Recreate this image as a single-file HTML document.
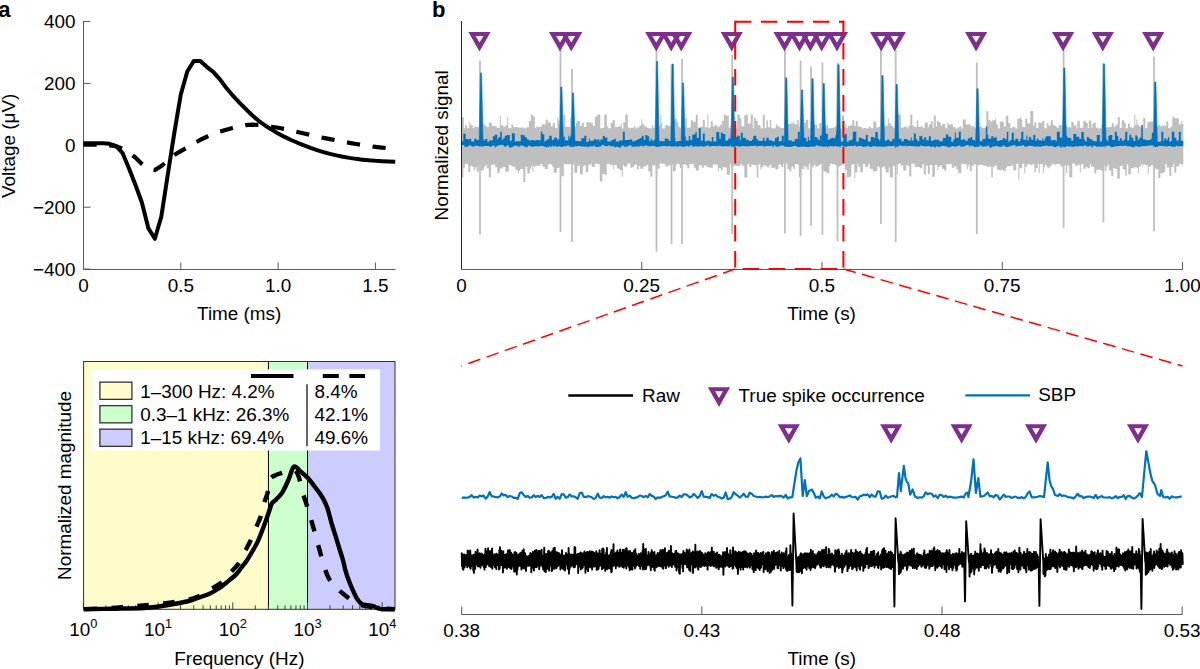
<!DOCTYPE html><html><head><meta charset="utf-8"><style>html,body{margin:0;padding:0;background:#fff;overflow:hidden;width:1200px;height:669px;}svg{display:block;}text{font-family:"Liberation Sans", sans-serif;fill:#000;}</style></head><body>
<svg width="1200" height="669" viewBox="0 0 1200 669">
<rect width="1200" height="669" fill="#fff"/>
<text x="-1.8" y="16.6" font-size="22" text-anchor="start" font-weight="bold" >a</text>
<text x="432" y="16.6" font-size="22" text-anchor="start" font-weight="bold" >b</text>
<path d="M83.5 21 V269.5 H395.5" fill="none" stroke="#595959" stroke-width="1"/>
<path d="M83.5 21.55 H90.5" stroke="#595959" stroke-width="1"/>
<text x="75.6" y="28.15" font-size="18.9" text-anchor="end" font-weight="normal" >400</text>
<path d="M83.5 83.43 H90.5" stroke="#595959" stroke-width="1"/>
<text x="75.6" y="90.03" font-size="18.9" text-anchor="end" font-weight="normal" >200</text>
<path d="M83.5 145.3 H90.5" stroke="#595959" stroke-width="1"/>
<text x="75.6" y="151.9" font-size="18.9" text-anchor="end" font-weight="normal" >0</text>
<path d="M83.5 207.18 H90.5" stroke="#595959" stroke-width="1"/>
<text x="75.6" y="213.78" font-size="18.9" text-anchor="end" font-weight="normal" >&#8722;200</text>
<path d="M83.5 269.05 H90.5" stroke="#595959" stroke-width="1"/>
<text x="75.6" y="275.65" font-size="18.9" text-anchor="end" font-weight="normal" >&#8722;400</text>
<text x="83.5" y="291.6" font-size="18.9" text-anchor="middle" font-weight="normal" >0</text>
<path d="M180.8 269.5 V262.5" stroke="#595959" stroke-width="1"/>
<text x="180.8" y="291.6" font-size="18.9" text-anchor="middle" font-weight="normal" >0.5</text>
<path d="M278.1 269.5 V262.5" stroke="#595959" stroke-width="1"/>
<text x="278.1" y="291.6" font-size="18.9" text-anchor="middle" font-weight="normal" >1.0</text>
<path d="M375.4 269.5 V262.5" stroke="#595959" stroke-width="1"/>
<text x="375.4" y="291.6" font-size="18.9" text-anchor="middle" font-weight="normal" >1.5</text>
<text x="239.2" y="319.75" font-size="18.9" text-anchor="middle" font-weight="normal" >Time (ms)</text>
<text x="15" y="145.8" font-size="18.9" text-anchor="middle" font-weight="normal" transform="rotate(-90 15 145.8)">Voltage (&#956;V)</text>
<path d="M83.5 143.3 89.99 143.28 96.47 143.28 102.96 143.33 109.45 143.81 115.93 145.94 122.42 152.81 128.91 168.23 135.39 184.85 141.88 202.54 148.37 228.3 154.85 238.8 161.34 216.5 167.83 174.29 174.31 132.82 180.8 94.5 187.29 71.5 193.77 61 200.26 61 206.75 66.8 213.23 71.84 219.72 79.08 226.21 87.73 232.69 95.49 239.18 102.31 245.67 108.87 252.15 115.22 258.64 120.81 265.13 125.5 271.61 129.61 278.1 133.4 284.59 136.89 291.07 140.02 297.56 142.77 304.05 145.32 310.53 147.79 317.02 150.08 323.51 152.1 329.99 153.85 336.48 155.38 342.97 156.73 349.45 157.88 355.94 158.86 362.43 159.65 368.91 160.32 375.4 160.84 381.89 161.19 388.37 161.51 394.86 161.79 395.2 161.8" fill="none" stroke="#000" stroke-width="4" stroke-linejoin="round"/>
<path id="adash" d="M83.5 144.6 89.99 144.56 96.47 144.55 102.96 144.73 109.45 145.33 115.93 146.29 122.42 148.62 128.91 152.46 135.39 157.6 141.88 163.89 148.37 168.72 154.85 169.98 161.34 166.05 167.83 160.45 174.31 154.9 180.8 151.17 187.29 147.52 193.77 143.57 200.26 139.98 206.75 136.75 213.23 134 219.72 131.6 226.21 129.67 232.69 127.93 239.18 126.17 245.67 125.15 252.15 124.72 258.64 124.89 265.13 125.65 271.61 126.7 278.1 127.72 284.59 128.93 291.07 130.46 297.56 132.01 304.05 133.48 310.53 134.95 317.02 136.46 323.51 137.85 329.99 139.07 336.48 140.32 342.97 141.66 349.45 142.87 355.94 143.95 362.43 144.99 368.91 146.02 375.4 146.89 381.89 147.62 388.37 148.32 394.86 148.99 395.2 149" fill="none" stroke="#000" stroke-width="4.2" stroke-dasharray="13.2 12.68" stroke-dashoffset="0"/>
<path d="M461.8 117.28 463.8 117.28 463.8 128.21 464.8 128.21 464.8 125.18 466.8 125.18 466.8 128.35 468.3 128.35 468.3 127.45 469.3 127.45 469.3 121.84 470.3 121.84 470.3 124.72 471.8 124.72 471.8 125.23 472.8 125.23 472.8 128.32 474.3 128.32 474.3 126.44 476.3 126.44 476.3 127.1 478.8 127.1 478.8 128.09 480.3 128.09 480.3 126.73 481.8 126.73 481.8 125.34 482.8 125.34 482.8 124.17 484.8 124.17 484.8 126.12 486.8 126.12 486.8 127.15 488.8 127.15 488.8 122.75 491.8 122.75 491.8 125.67 493.8 125.67 493.8 126.24 496.8 126.24 496.8 128.02 497.8 128.02 497.8 127.87 499.8 127.87 499.8 116.07 500.8 116.07 500.8 125.27 503.3 125.27 503.3 126.92 505.3 126.92 505.3 125.2 507.3 125.2 507.3 117.5 508.3 117.5 508.3 128.24 511.3 128.24 511.3 124.54 513.3 124.54 513.3 127.23 515.3 127.23 515.3 126.88 518.3 126.88 518.3 127.8 520.3 127.8 520.3 127.56 521.3 127.56 521.3 127.42 524.3 127.42 524.3 128.18 526.3 128.18 526.3 127.26 528.8 127.26 528.8 120.92 530.8 120.92 530.8 114.5 532.8 114.5 532.8 116.48 534.8 116.48 534.8 127.88 536.3 127.88 536.3 125.98 537.3 125.98 537.3 127.24 539.3 127.24 539.3 126.75 541.8 126.75 541.8 124.04 543.3 124.04 543.3 124.46 545.8 124.46 545.8 119.77 547.8 119.77 547.8 122.42 550.8 122.42 550.8 126.6 552.8 126.6 552.8 122.79 554.8 122.79 554.8 128.06 556.3 128.06 556.3 128.5 557.3 128.5 557.3 117.2 558.3 117.2 558.3 120.62 559.3 120.62 559.3 124.68 560.8 124.68 560.8 126.78 563.3 126.78 563.3 114.5 565.3 114.5 565.3 127.08 567.3 127.08 567.3 126.91 570.3 126.91 570.3 117.17 573.3 117.17 573.3 126.79 575.8 126.79 575.8 123.11 576.8 123.11 576.8 120.94 579.8 120.94 579.8 125.72 581.8 125.72 581.8 122.88 583.8 122.88 583.8 126.98 586.3 126.98 586.3 122.27 587.8 122.27 587.8 122.32 590.8 122.32 590.8 122.63 592.8 122.63 592.8 126.07 594.8 126.07 594.8 116.59 597.3 116.59 597.3 114.5 600.3 114.5 600.3 128.18 602.3 128.18 602.3 127.67 604.3 127.67 604.3 114.5 606.8 114.5 606.8 126.02 607.8 126.02 607.8 128.16 610.8 128.16 610.8 122.71 612.8 122.71 612.8 120.15 614.8 120.15 614.8 126.96 617.8 126.96 617.8 126.59 620.8 126.59 620.8 123.6 621.8 123.6 621.8 128.39 623.3 128.39 623.3 122.26 625.3 122.26 625.3 114.5 627.8 114.5 627.8 127.86 629.8 127.86 629.8 128.45 630.8 128.45 630.8 128.09 633.8 128.09 633.8 126.34 635.3 126.34 635.3 128.39 636.8 128.39 636.8 127.45 639.3 127.45 639.3 125.51 641.3 125.51 641.3 119.35 642.3 119.35 642.3 124.37 644.3 124.37 644.3 126.43 646.8 126.43 646.8 127.97 649.3 127.97 649.3 128.43 651.8 128.43 651.8 124.94 653.3 124.94 653.3 127.78 654.8 127.78 654.8 119.24 657.8 119.24 657.8 125.42 660.3 125.42 660.3 115 661.3 115 661.3 122.88 662.3 122.88 662.3 128.39 664.8 128.39 664.8 126.27 665.8 126.27 665.8 124.96 668.3 124.96 668.3 126.21 670.3 126.21 670.3 125.81 672.3 125.81 672.3 120.55 674.8 120.55 674.8 118.77 676.8 118.77 676.8 121.54 678.3 121.54 678.3 126.61 679.3 126.61 679.3 127.45 682.3 127.45 682.3 127.13 685.3 127.13 685.3 117.84 686.8 117.84 686.8 127.91 688.8 127.91 688.8 127.56 690.8 127.56 690.8 120.28 692.8 120.28 692.8 121.71 695.8 121.71 695.8 114.5 697.8 114.5 697.8 127.67 699.8 127.67 699.8 126.77 702.8 126.77 702.8 119.97 704.8 119.97 704.8 127.17 707.3 127.17 707.3 114.5 708.3 114.5 708.3 128.17 709.3 128.17 709.3 127.3 710.8 127.3 710.8 121.3 712.8 121.3 712.8 126.52 714.8 126.52 714.8 125.29 717.3 125.29 717.3 127.26 718.3 127.26 718.3 126.4 719.8 126.4 719.8 124.68 720.8 124.68 720.8 124.94 721.8 124.94 721.8 120.95 723.8 120.95 723.8 114.5 725.8 114.5 725.8 115.84 727.8 115.84 727.8 115.27 728.8 115.27 728.8 127.64 730.3 127.64 730.3 125.62 732.3 125.62 732.3 125.87 734.3 125.87 734.3 122.31 736.3 122.31 736.3 128.44 737.3 128.44 737.3 114.5 739.8 114.5 739.8 118.13 741.3 118.13 741.3 126.35 744.3 126.35 744.3 115.14 746.3 115.14 746.3 114.5 747.8 114.5 747.8 123.54 750.8 123.54 750.8 114.5 752.8 114.5 752.8 128.22 753.8 128.22 753.8 117.7 755.8 117.7 755.8 120.73 757.8 120.73 757.8 125.03 759.8 125.03 759.8 126.16 760.8 126.16 760.8 128.49 762.8 128.49 762.8 114.83 764.8 114.83 764.8 128.37 766.3 128.37 766.3 120.15 767.8 120.15 767.8 127.26 769.8 127.26 769.8 119.98 771.3 119.98 771.3 127.91 772.3 127.91 772.3 128.41 774.3 128.41 774.3 128.16 775.8 128.16 775.8 124.43 777.3 124.43 777.3 126.62 779.8 126.62 779.8 127.88 781.8 127.88 781.8 127.91 784.8 127.91 784.8 120.04 787.8 120.04 787.8 123.91 790.8 123.91 790.8 123.19 793.3 123.19 793.3 121.85 794.3 121.85 794.3 124.14 797.3 124.14 797.3 119.7 798.8 119.7 798.8 126.7 799.8 126.7 799.8 124.74 800.8 124.74 800.8 127.43 803.8 127.43 803.8 122.43 805.8 122.43 805.8 119.83 808.3 119.83 808.3 128.24 810.8 128.24 810.8 122.2 812.8 122.2 812.8 123.53 814.3 123.53 814.3 124.51 817.3 124.51 817.3 128.2 819.3 128.2 819.3 122.96 821.3 122.96 821.3 127.66 824.3 127.66 824.3 127.39 826.3 127.39 826.3 124.81 828.3 124.81 828.3 128.26 830.3 128.26 830.3 128.1 833.3 128.1 833.3 127.19 835.3 127.19 835.3 126.12 837.3 126.12 837.3 127.66 839.8 127.66 839.8 128.43 841.8 128.43 841.8 115.41 844.3 115.41 844.3 126.64 846.3 126.64 846.3 128.21 847.8 128.21 847.8 125.68 850.8 125.68 850.8 124.99 852.3 124.99 852.3 120.22 854.3 120.22 854.3 125.88 855.8 125.88 855.8 120.96 857.8 120.96 857.8 126.52 859.8 126.52 859.8 126.9 861.8 126.9 861.8 128.49 863.8 128.49 863.8 128.01 865.8 128.01 865.8 128.46 868.8 128.46 868.8 126.73 870.8 126.73 870.8 128.2 873.3 128.2 873.3 121.18 875.3 121.18 875.3 121.66 876.3 121.66 876.3 127.41 877.8 127.41 877.8 127.06 880.3 127.06 880.3 120.31 882.3 120.31 882.3 126.56 885.3 126.56 885.3 125.47 887.8 125.47 887.8 118.2 888.8 118.2 888.8 123.19 891.3 123.19 891.3 125.97 893.3 125.97 893.3 127.98 895.8 127.98 895.8 127.24 897.8 127.24 897.8 114.5 900.8 114.5 900.8 127.46 903.8 127.46 903.8 126.59 906.8 126.59 906.8 128.2 908.3 128.2 908.3 125.46 910.3 125.46 910.3 114.5 912.3 114.5 912.3 125.48 913.8 125.48 913.8 126.91 915.3 126.91 915.3 126.75 916.8 126.75 916.8 120.21 918.3 120.21 918.3 126.67 920.3 126.67 920.3 126.7 921.8 126.7 921.8 125.88 922.8 125.88 922.8 127.99 924.8 127.99 924.8 122.56 927.8 122.56 927.8 127.3 928.8 127.3 928.8 124.56 930.8 124.56 930.8 121.32 932.8 121.32 932.8 127.98 933.8 127.98 933.8 115.39 935.8 115.39 935.8 126.61 936.8 126.61 936.8 121.15 939.3 121.15 939.3 122.69 940.8 122.69 940.8 125.69 942.3 125.69 942.3 123.91 945.3 123.91 945.3 128.16 947.3 128.16 947.3 122.71 948.3 122.71 948.3 124.56 949.3 124.56 949.3 124.76 950.8 124.76 950.8 123.94 952.8 123.94 952.8 127.14 953.8 127.14 953.8 126.63 955.3 126.63 955.3 128.5 957.8 128.5 957.8 127.26 959.8 127.26 959.8 126.05 961.3 126.05 961.3 128.39 962.8 128.39 962.8 119.62 965.8 119.62 965.8 124.54 968.8 124.54 968.8 124.32 970.3 124.32 970.3 125.92 971.8 125.92 971.8 126.43 974.8 126.43 974.8 128.47 976.3 128.47 976.3 128.23 978.8 128.23 978.8 127.08 980.3 127.08 980.3 126.12 981.8 126.12 981.8 128.06 983.8 128.06 983.8 127.71 986.3 127.71 986.3 111.17 988.3 111.17 988.3 120.11 990.3 120.11 990.3 121.54 992.3 121.54 992.3 120.33 995.3 120.33 995.3 118.31 996.3 118.31 996.3 124.48 997.8 124.48 997.8 128.38 999.8 128.38 999.8 121.56 1001.8 121.56 1001.8 121.84 1003.8 121.84 1003.8 126.43 1005.8 126.43 1005.8 115.84 1008.3 115.84 1008.3 122.94 1010.3 122.94 1010.3 128.15 1012.3 128.15 1012.3 126.73 1013.8 126.73 1013.8 127.02 1015.3 127.02 1015.3 128.38 1017.3 128.38 1017.3 118.73 1020.3 118.73 1020.3 116.96 1021.3 116.96 1021.3 119.8 1022.3 119.8 1022.3 126.95 1024.3 126.95 1024.3 127.34 1025.3 127.34 1025.3 118.7 1027.3 118.7 1027.3 123.15 1030.3 123.15 1030.3 111 1033.3 111 1033.3 126.05 1034.3 126.05 1034.3 122.57 1036.3 122.57 1036.3 127.96 1038.3 127.96 1038.3 122.34 1039.3 122.34 1039.3 122.87 1042.3 122.87 1042.3 120.99 1044.3 120.99 1044.3 128.19 1046.8 128.19 1046.8 123.18 1048.3 123.18 1048.3 125.51 1050.8 125.51 1050.8 120.33 1052.8 120.33 1052.8 124.78 1054.8 124.78 1054.8 125.88 1056.8 125.88 1056.8 127.78 1058.8 127.78 1058.8 124.82 1060.8 124.82 1060.8 125.56 1063.8 125.56 1063.8 122.75 1064.8 122.75 1064.8 125.32 1066.8 125.32 1066.8 127.35 1069.8 127.35 1069.8 127.43 1071.3 127.43 1071.3 121.95 1073.8 121.95 1073.8 125.81 1075.3 125.81 1075.3 124.47 1076.3 124.47 1076.3 128.48 1077.3 128.48 1077.3 121.52 1078.8 121.52 1078.8 120.54 1079.8 120.54 1079.8 127.7 1080.8 127.7 1080.8 127.68 1083.3 127.68 1083.3 120.86 1085.8 120.86 1085.8 122.83 1087.8 122.83 1087.8 128.08 1088.8 128.08 1088.8 120.48 1091.3 120.48 1091.3 127.63 1092.3 127.63 1092.3 123.49 1094.8 123.49 1094.8 122.01 1095.8 122.01 1095.8 127.72 1097.8 127.72 1097.8 128.38 1099.3 128.38 1099.3 128.25 1101.3 128.25 1101.3 124.36 1103.3 124.36 1103.3 128.14 1105.8 128.14 1105.8 127.3 1108.8 127.3 1108.8 127.1 1111.8 127.1 1111.8 123.3 1113.8 123.3 1113.8 126.45 1115.8 126.45 1115.8 124.57 1117.8 124.57 1117.8 117.32 1119.8 117.32 1119.8 128.04 1121.8 128.04 1121.8 120.35 1124.3 120.35 1124.3 122.97 1125.8 122.97 1125.8 128.15 1127.8 128.15 1127.8 123.42 1129.8 123.42 1129.8 127.23 1131.8 127.23 1131.8 128.06 1132.8 128.06 1132.8 127.14 1134.3 127.14 1134.3 114.5 1135.3 114.5 1135.3 124.94 1136.3 124.94 1136.3 119.59 1137.3 119.59 1137.3 124.61 1138.8 124.61 1138.8 126.53 1141.3 126.53 1141.3 127.73 1143.3 127.73 1143.3 117.9 1145.3 117.9 1145.3 128 1147.3 128 1147.3 122.07 1150.3 122.07 1150.3 121.48 1152.8 121.48 1152.8 121.58 1155.8 121.58 1155.8 126.19 1158.3 126.19 1158.3 124.52 1160.3 124.52 1160.3 126.39 1161.8 126.39 1161.8 125.84 1163.8 125.84 1163.8 124.83 1164.8 124.83 1164.8 126.25 1166.3 126.25 1166.3 121.62 1168.3 121.62 1168.3 128.07 1170.3 128.07 1170.3 126.77 1172.3 126.77 1172.3 117.33 1174.8 117.33 1174.8 118.8 1175.8 118.8 1175.8 118.25 1178.8 118.25 1178.8 124.48 1180.8 124.48 1180.8 121.11 1181.8 121.11 1181.8 124.02 1183.3 124.02 1183.3 163.93 1182.8 163.93 1182.8 165.55 1181.8 165.55 1181.8 163.88 1179.3 163.88 1179.3 166.31 1176.3 166.31 1176.3 172.5 1174.3 172.5 1174.3 163.63 1173.3 163.63 1173.3 167.11 1171.3 167.11 1171.3 176.09 1169.3 176.09 1169.3 167.48 1166.8 167.48 1166.8 163.76 1165.3 163.76 1165.3 172.18 1163.3 172.18 1163.3 173.3 1160.3 173.3 1160.3 177.89 1158.3 177.89 1158.3 169.37 1155.8 169.37 1155.8 168.03 1153.8 168.03 1153.8 164.99 1151.8 164.99 1151.8 165.31 1150.8 165.31 1150.8 166.77 1148.8 166.77 1148.8 173.49 1147.8 173.49 1147.8 165.32 1144.8 165.32 1144.8 164.07 1143.3 164.07 1143.3 166.31 1141.8 166.31 1141.8 163.97 1140.8 163.97 1140.8 166.67 1138.8 166.67 1138.8 172.91 1137.8 172.91 1137.8 167.87 1136.3 167.87 1136.3 167.15 1133.8 167.15 1133.8 168.33 1130.8 168.33 1130.8 174.29 1128.3 174.29 1128.3 164.16 1126.8 164.16 1126.8 175.83 1125.3 175.83 1125.3 169.38 1122.8 169.38 1122.8 165.96 1119.8 165.96 1119.8 178.62 1117.3 178.62 1117.3 168.94 1115.3 168.94 1115.3 168.01 1113.3 168.01 1113.3 175.97 1111.3 175.97 1111.3 170.53 1108.8 170.53 1108.8 164.14 1107.8 164.14 1107.8 166.48 1106.3 166.48 1106.3 170.9 1104.8 170.9 1104.8 165.4 1103.8 165.4 1103.8 170.7 1100.8 170.7 1100.8 169.49 1098.3 169.49 1098.3 170.12 1096.3 170.12 1096.3 173.44 1094.3 173.44 1094.3 167.06 1091.3 167.06 1091.3 164.33 1089.8 164.33 1089.8 168.22 1087.3 168.22 1087.3 166.8 1085.8 166.8 1085.8 168.8 1083.3 168.8 1083.3 164.22 1080.8 164.22 1080.8 172.25 1079.8 172.25 1079.8 164.71 1077.3 164.71 1077.3 166.07 1075.3 166.07 1075.3 163.56 1072.3 163.56 1072.3 177.33 1069.3 177.33 1069.3 165.43 1067.3 165.43 1067.3 172.83 1065.8 172.83 1065.8 165.54 1063.8 165.54 1063.8 164.57 1062.8 164.57 1062.8 166.46 1061.3 166.46 1061.3 167.09 1060.3 167.09 1060.3 163.94 1058.3 163.94 1058.3 163.92 1056.3 163.92 1056.3 164.97 1054.3 164.97 1054.3 163.59 1052.8 163.59 1052.8 164.62 1051.3 164.62 1051.3 166.4 1049.3 166.4 1049.3 168.3 1047.8 168.3 1047.8 167.06 1046.8 167.06 1046.8 164.9 1044.8 164.9 1044.8 167.06 1043.8 167.06 1043.8 172.87 1042.8 172.87 1042.8 164.04 1039.8 164.04 1039.8 173.28 1038.8 173.28 1038.8 164.11 1037.8 164.11 1037.8 168.05 1035.8 168.05 1035.8 172.34 1034.3 172.34 1034.3 164.16 1032.3 164.16 1032.3 165.28 1030.3 165.28 1030.3 163.9 1027.3 163.9 1027.3 166.71 1025.3 166.71 1025.3 173.59 1024.3 173.59 1024.3 163.71 1022.3 163.71 1022.3 168.34 1019.3 168.34 1019.3 179.54 1018.3 179.54 1018.3 163.72 1016.3 163.72 1016.3 170.19 1013.3 170.19 1013.3 165.17 1011.8 165.17 1011.8 166.04 1008.8 166.04 1008.8 166.49 1006.8 166.49 1006.8 167.91 1005.8 167.91 1005.8 170.66 1004.8 170.66 1004.8 170.86 1002.8 170.86 1002.8 169.45 1001.3 169.45 1001.3 170.18 999.3 170.18 999.3 169.65 996.8 169.65 996.8 165.5 994.8 165.5 994.8 166.68 992.8 166.68 992.8 177.5 991.3 177.5 991.3 166.86 988.8 166.86 988.8 166.77 986.8 166.77 986.8 165.74 983.8 165.74 983.8 165.19 981.8 165.19 981.8 164.52 980.3 164.52 980.3 165.35 978.3 165.35 978.3 164.73 975.3 164.73 975.3 164.27 973.8 164.27 973.8 166.04 971.8 166.04 971.8 171.29 969.8 171.29 969.8 164.45 968.8 164.45 968.8 166.27 967.8 166.27 967.8 169.15 966.8 169.15 966.8 164.33 963.8 164.33 963.8 163.71 961.3 163.71 961.3 173.16 958.3 173.16 958.3 169.25 956.3 169.25 956.3 166.25 954.3 166.25 954.3 167.65 951.8 167.65 951.8 164.07 949.3 164.07 949.3 164.73 948.3 164.73 948.3 164.12 946.3 164.12 946.3 170.54 944.3 170.54 944.3 168.81 941.8 168.81 941.8 165.2 940.3 165.2 940.3 166.66 938.3 166.66 938.3 169.91 937.3 169.91 937.3 164.95 934.8 164.95 934.8 176.63 932.3 176.63 932.3 164.96 929.8 164.96 929.8 173.94 927.8 173.94 927.8 165.83 925.8 165.83 925.8 174.58 923.8 174.58 923.8 164.06 922.3 164.06 922.3 168.18 919.8 168.18 919.8 166.88 917.8 166.88 917.8 166.8 914.8 166.8 914.8 163.8 912.3 163.8 912.3 163.55 911.3 163.55 911.3 176.54 909.3 176.54 909.3 165.72 907.3 165.72 907.3 164.75 906.3 164.75 906.3 170.46 903.3 170.46 903.3 165.14 902.3 165.14 902.3 165.66 900.8 165.66 900.8 163.56 898.8 163.56 898.8 164.39 897.8 164.39 897.8 174.19 896.8 174.19 896.8 164.36 894.8 164.36 894.8 166.37 892.8 166.37 892.8 177.5 889.8 177.5 889.8 167.6 888.8 167.6 888.8 172.53 885.8 172.53 885.8 168.85 884.8 168.85 884.8 165.98 883.8 165.98 883.8 167.2 881.3 167.2 881.3 168.38 879.3 168.38 879.3 166.47 877.3 166.47 877.3 170.9 875.3 170.9 875.3 172.34 874.3 172.34 874.3 170.82 872.8 170.82 872.8 168.68 869.8 168.68 869.8 163.64 868.3 163.64 868.3 166.77 865.3 166.77 865.3 164.07 862.8 164.07 862.8 172.16 860.3 172.16 860.3 166.88 858.3 166.88 858.3 163.67 857.3 163.67 857.3 172.44 855.3 172.44 855.3 178.08 854.3 178.08 854.3 163.99 852.3 163.99 852.3 164.95 851.3 164.95 851.3 176.78 849.3 176.78 849.3 177.5 846.8 177.5 846.8 169.83 844.8 169.83 844.8 163.69 842.3 163.69 842.3 165.56 840.3 165.56 840.3 166.41 837.8 166.41 837.8 165.14 834.8 165.14 834.8 163.99 831.8 163.99 831.8 163.62 830.3 163.62 830.3 166.07 829.3 166.07 829.3 173.15 826.3 173.15 826.3 171.56 823.3 171.56 823.3 163.78 820.3 163.78 820.3 165.19 818.3 165.19 818.3 166.48 815.3 166.48 815.3 164.13 814.3 164.13 814.3 166.29 812.8 166.29 812.8 167.84 811.3 167.84 811.3 163.72 808.8 163.72 808.8 169.82 807.3 169.82 807.3 166.42 806.3 166.42 806.3 168.38 805.3 168.38 805.3 165.96 803.8 165.96 803.8 169.09 801.3 169.09 801.3 177.11 798.8 177.11 798.8 164.16 796.3 164.16 796.3 164.34 794.8 164.34 794.8 168.89 793.3 168.89 793.3 166.61 792.3 166.61 792.3 167.34 791.3 167.34 791.3 171.19 789.3 171.19 789.3 169.02 787.3 169.02 787.3 163.71 785.3 163.71 785.3 164.1 783.3 164.1 783.3 167.02 781.3 167.02 781.3 164.79 778.3 164.79 778.3 169.27 775.3 169.27 775.3 167.59 773.3 167.59 773.3 167.89 771.3 167.89 771.3 165.08 769.3 165.08 769.3 167.28 766.8 167.28 766.8 165.77 764.8 165.77 764.8 165.07 763.3 165.07 763.3 167.2 761.3 167.2 761.3 169.47 760.3 169.47 760.3 164.36 758.3 164.36 758.3 177.5 756.8 177.5 756.8 165.34 753.8 165.34 753.8 164.61 751.3 164.61 751.3 167.07 749.3 167.07 749.3 163.55 748.3 163.55 748.3 164.55 747.3 164.55 747.3 177.5 744.3 177.5 744.3 166.1 742.3 166.1 742.3 164.35 740.3 164.35 740.3 166.15 738.3 166.15 738.3 166.08 736.3 166.08 736.3 165.7 733.8 165.7 733.8 166.14 732.3 166.14 732.3 168.03 730.8 168.03 730.8 163.64 729.8 163.64 729.8 174.75 726.8 174.75 726.8 167.4 723.8 167.4 723.8 167 722.8 167 722.8 170.32 720.8 170.32 720.8 168 718.8 168 718.8 171.6 717.8 171.6 717.8 164.85 715.8 164.85 715.8 164.22 712.8 164.22 712.8 167.84 709.8 167.84 709.8 167.31 706.8 167.31 706.8 165.47 703.8 165.47 703.8 167.85 701.8 167.85 701.8 165.37 698.8 165.37 698.8 170.57 695.8 170.57 695.8 167.76 693.8 167.76 693.8 163.55 692.8 163.55 692.8 164.33 690.8 164.33 690.8 163.92 689.3 163.92 689.3 168.26 687.3 168.26 687.3 165.25 685.8 165.25 685.8 164.15 684.8 164.15 684.8 164.58 683.3 164.58 683.3 164.13 681.3 164.13 681.3 168.12 679.8 168.12 679.8 164.1 677.3 164.1 677.3 164.62 675.8 164.62 675.8 171.29 672.8 171.29 672.8 164.45 670.3 164.45 670.3 165.58 668.3 165.58 668.3 166.4 665.3 166.4 665.3 164.11 662.8 164.11 662.8 163.62 659.8 163.62 659.8 168.56 657.3 168.56 657.3 173.87 655.8 173.87 655.8 165.22 654.3 165.22 654.3 165.51 652.3 165.51 652.3 176.84 650.3 176.84 650.3 171.51 648.3 171.51 648.3 165.08 646.3 165.08 646.3 166.47 643.3 166.47 643.3 168.74 640.3 168.74 640.3 165.98 638.8 165.98 638.8 169.58 636.8 169.58 636.8 164.59 634.3 164.59 634.3 166.73 632.3 166.73 632.3 167.78 630.3 167.78 630.3 163.52 629.3 163.52 629.3 163.5 627.3 163.5 627.3 166.58 626.3 166.58 626.3 166.51 623.8 166.51 623.8 165.03 622.8 165.03 622.8 176.73 621.8 176.73 621.8 170.36 619.8 170.36 619.8 168.78 617.8 168.78 617.8 168.03 616.8 168.03 616.8 165.06 615.8 165.06 615.8 164.88 613.8 164.88 613.8 169.15 612.8 169.15 612.8 164.72 609.8 164.72 609.8 163.83 606.8 163.83 606.8 174.96 605.3 174.96 605.3 173.9 602.3 173.9 602.3 181.56 599.8 181.56 599.8 164.3 597.8 164.3 597.8 163.67 594.8 163.67 594.8 167.12 591.8 167.12 591.8 163.61 590.8 163.61 590.8 165.02 589.3 165.02 589.3 163.93 588.3 163.93 588.3 172.2 585.8 172.2 585.8 165.29 584.3 165.29 584.3 166.54 582.8 166.54 582.8 174.21 579.8 174.21 579.8 165.78 577.3 165.78 577.3 172.67 574.3 172.67 574.3 164.48 571.8 164.48 571.8 164.27 569.8 164.27 569.8 164.32 566.8 164.32 566.8 164.59 565.3 164.59 565.3 163.82 563.8 163.82 563.8 176.36 561.3 176.36 561.3 167.59 558.8 167.59 558.8 167.98 556.8 167.98 556.8 172.83 553.8 172.83 553.8 167.22 552.3 167.22 552.3 164.42 550.8 164.42 550.8 163.8 548.8 163.8 548.8 165.19 547.8 165.19 547.8 169 544.8 169 544.8 167.04 542.8 167.04 542.8 164.19 540.3 164.19 540.3 166.05 537.3 166.05 537.3 165.42 535.8 165.42 535.8 166.38 533.3 166.38 533.3 172.24 532.3 172.24 532.3 165.38 531.3 165.38 531.3 168.58 529.8 168.58 529.8 173.46 527.3 173.46 527.3 166.75 525.3 166.75 525.3 182 523.3 182 523.3 168.99 520.3 168.99 520.3 170.67 518.8 170.67 518.8 173.43 517.8 173.43 517.8 169.85 515.3 169.85 515.3 166.7 513.3 166.7 513.3 166.25 511.3 166.25 511.3 165.08 508.8 165.08 508.8 171.29 507.3 171.29 507.3 171.63 505.3 171.63 505.3 167.04 502.8 167.04 502.8 168.55 499.8 168.55 499.8 172.99 497.3 172.99 497.3 167.17 495.3 167.17 495.3 164.77 494.3 164.77 494.3 164.2 492.8 164.2 492.8 164.95 490.8 164.95 490.8 177.5 488.8 177.5 488.8 168.32 486.8 168.32 486.8 164.55 485.8 164.55 485.8 166.42 483.8 166.42 483.8 170.53 480.8 170.53 480.8 163.94 478.8 163.94 478.8 171.63 476.8 171.63 476.8 167.14 475.3 167.14 475.3 170.16 473.8 170.16 473.8 166.73 472.3 166.73 472.3 166.01 470.3 166.01 470.3 171.98 468.3 171.98 468.3 164.12 466.3 164.12 466.3 163.74 464.8 163.74 464.8 167.67 463.3 167.67 463.3 177.5 461.8 177.5 Z" fill="#bfbfbf"/>
<path d="M480 60.4 V234.5 M560.5 50 V232 M572 68.8 V242 M656.5 47 V251.7 M671.5 64.5 V243.9 M682 58.8 V244 M732.2 54.8 V234 M784.9 50 V233.4 M800.6 60.4 V235.7 M811 66.3 V225.8 M822.4 62.4 V234.7 M837.5 62.4 V241.3 M880.9 50 V224 M895.7 50 V242.3 M976.8 62.4 V234 M1063.6 50 V228 M1103.4 63 V222.4 M1154 56.4 V231.3 " fill="none" stroke="#bfbfbf" stroke-width="1.8"/>
<path d="M461.8 141.26 463.3 141.26 463.3 133.82 465.8 133.82 465.8 139.11 468.3 139.11 468.3 139.26 469.3 139.26 469.3 138.77 471.3 138.77 471.3 141.39 474.3 141.39 474.3 138.5 476.3 138.5 476.3 140.04 479.3 140.04 479.3 139.6 481.3 139.6 481.3 139.49 483.8 139.49 483.8 140.76 484.8 140.76 484.8 139.02 487.3 139.02 487.3 141.66 489.3 141.66 489.3 140.37 490.8 140.37 490.8 140.56 492.8 140.56 492.8 136.3 494.8 136.3 494.8 134.73 497.3 134.73 497.3 139.23 498.3 139.23 498.3 137.18 500.3 137.18 500.3 131.7 501.8 131.7 501.8 139.87 503.3 139.87 503.3 137.88 504.8 137.88 504.8 135.85 506.8 135.85 506.8 135.1 509.8 135.1 509.8 140.64 511.8 140.64 511.8 133.33 514.8 133.33 514.8 141.69 515.8 141.69 515.8 141.28 518.3 141.28 518.3 141.15 520.8 141.15 520.8 134.69 522.8 134.69 522.8 135.21 524.8 135.21 524.8 137.33 526.8 137.33 526.8 139.16 528.8 139.16 528.8 140.38 531.8 140.38 531.8 140.07 533.8 140.07 533.8 140.47 536.3 140.47 536.3 140.09 538.8 140.09 538.8 140.37 540.8 140.37 540.8 131.7 542.3 131.7 542.3 134.16 544.3 134.16 544.3 141.53 545.3 141.53 545.3 140.49 547.3 140.49 547.3 139.07 549.3 139.07 549.3 135.76 551.8 135.76 551.8 140.02 553.8 140.02 553.8 137.87 556.3 137.87 556.3 137.86 557.3 137.86 557.3 139.91 558.3 139.91 558.3 138.9 561.3 138.9 561.3 131.7 562.8 131.7 562.8 136.74 564.8 136.74 564.8 140.27 567.3 140.27 567.3 141.06 568.3 141.06 568.3 135.75 569.3 135.75 569.3 138.07 570.3 138.07 570.3 135.86 572.3 135.86 572.3 138.31 574.3 138.31 574.3 140.91 576.8 140.91 576.8 141.02 578.8 141.02 578.8 141.32 581.3 141.32 581.3 138.26 584.3 138.26 584.3 135.82 586.3 135.82 586.3 141.69 588.8 141.69 588.8 138.7 589.8 138.7 589.8 141.05 591.3 141.05 591.3 140.65 593.8 140.65 593.8 139.24 596.3 139.24 596.3 139.9 597.8 139.9 597.8 139.22 599.3 139.22 599.3 141.34 600.3 141.34 600.3 139.41 602.8 139.41 602.8 136.11 604.8 136.11 604.8 137.78 605.8 137.78 605.8 137.43 607.3 137.43 607.3 141.59 608.8 141.59 608.8 141.48 611.3 141.48 611.3 140.04 613.8 140.04 613.8 138.73 615.8 138.73 615.8 141.51 617.8 141.51 617.8 141.55 619.3 141.55 619.3 140.41 620.8 140.41 620.8 140.47 622.8 140.47 622.8 131.7 624.8 131.7 624.8 140.02 627.8 140.02 627.8 139.89 629.3 139.89 629.3 139.45 632.3 139.45 632.3 141.39 633.8 141.39 633.8 141 635.8 141 635.8 139.99 637.8 139.99 637.8 139.11 639.8 139.11 639.8 138.12 641.8 138.12 641.8 135.76 643.8 135.76 643.8 140.03 645.3 140.03 645.3 135.12 647.3 135.12 647.3 136.14 649.3 136.14 649.3 141.37 650.8 141.37 650.8 138.95 652.3 138.95 652.3 141.11 653.8 141.11 653.8 139.93 656.8 139.93 656.8 140.91 659.3 140.91 659.3 140.92 661.8 140.92 661.8 141.22 664.8 141.22 664.8 138.62 666.8 138.62 666.8 139.1 668.8 139.1 668.8 140.89 671.3 140.89 671.3 137.85 672.3 137.85 672.3 137.17 674.3 137.17 674.3 138.06 675.3 138.06 675.3 141.65 677.3 141.65 677.3 141.04 680.3 141.04 680.3 140.99 682.3 140.99 682.3 138.89 683.3 138.89 683.3 136.87 685.8 136.87 685.8 140.43 688.8 140.43 688.8 135.93 690.3 135.93 690.3 139.94 692.3 139.94 692.3 134.41 695.3 134.41 695.3 132.31 696.8 132.31 696.8 137.83 698.8 137.83 698.8 128.16 700.8 128.16 700.8 140.73 702.8 140.73 702.8 133.66 704.8 133.66 704.8 141.28 706.8 141.28 706.8 140.86 709.8 140.86 709.8 141.56 711.8 141.56 711.8 136.89 713.3 136.89 713.3 141.56 716.3 141.56 716.3 132.04 719.3 132.04 719.3 138.83 720.8 138.83 720.8 132.86 722.8 132.86 722.8 133.9 725.3 133.9 725.3 140.55 728.3 140.55 728.3 138.52 730.8 138.52 730.8 133.54 732.3 133.54 732.3 136.99 734.3 136.99 734.3 137.07 737.3 137.07 737.3 135.7 739.8 135.7 739.8 140.24 740.8 140.24 740.8 132.65 742.8 132.65 742.8 137.74 745.8 137.74 745.8 139.65 748.8 139.65 748.8 140.92 751.8 140.92 751.8 139.41 753.3 139.41 753.3 135.77 756.3 135.77 756.3 139.01 757.8 139.01 757.8 140.78 760.8 140.78 760.8 141.07 761.8 141.07 761.8 140.94 762.8 140.94 762.8 137.76 764.3 137.76 764.3 140.78 766.3 140.78 766.3 137.7 768.8 137.7 768.8 140.23 771.8 140.23 771.8 141.18 774.8 141.18 774.8 138.33 776.8 138.33 776.8 136.84 778.8 136.84 778.8 141.13 781.8 141.13 781.8 135.65 783.8 135.65 783.8 141.66 785.8 141.66 785.8 141.49 786.8 141.49 786.8 141.3 788.3 141.3 788.3 141.1 789.3 141.1 789.3 140.17 791.8 140.17 791.8 141.54 792.8 141.54 792.8 141.4 794.8 141.4 794.8 138.88 797.8 138.88 797.8 131.7 799.8 131.7 799.8 140.38 802.3 140.38 802.3 138.18 803.3 138.18 803.3 138.11 806.3 138.11 806.3 141.42 807.8 141.42 807.8 136.64 808.8 136.64 808.8 140.14 810.8 140.14 810.8 135.35 813.3 135.35 813.3 141.33 814.8 141.33 814.8 137.09 816.8 137.09 816.8 138.16 818.3 138.16 818.3 140.14 819.8 140.14 819.8 135.52 821.8 135.52 821.8 141.56 822.8 141.56 822.8 133.07 825.8 133.07 825.8 133.69 827.8 133.69 827.8 139.83 829.8 139.83 829.8 138.56 831.8 138.56 831.8 137.74 833.3 137.74 833.3 138.26 835.3 138.26 835.3 135.23 836.3 135.23 836.3 130.97 837.8 130.97 837.8 139.82 840.3 139.82 840.3 141.51 843.3 141.51 843.3 134.66 845.3 134.66 845.3 133.73 846.8 133.73 846.8 141.69 848.8 141.69 848.8 140.25 851.8 140.25 851.8 139.04 852.8 139.04 852.8 131.7 854.8 131.7 854.8 131.7 856.3 131.7 856.3 141.41 858.8 141.41 858.8 137.86 861.8 137.86 861.8 138.87 863.8 138.87 863.8 139.47 865.8 139.47 865.8 134.88 867.8 134.88 867.8 141.6 870.8 141.6 870.8 137.12 873.8 137.12 873.8 138.03 875.3 138.03 875.3 131.95 877.8 131.95 877.8 138.87 879.3 138.87 879.3 140.82 880.3 140.82 880.3 139 881.8 139 881.8 138.13 883.8 138.13 883.8 140.71 886.8 140.71 886.8 139.62 889.3 139.62 889.3 141.29 892.3 141.29 892.3 138.86 894.8 138.86 894.8 141.44 897.8 141.44 897.8 138.98 900.3 138.98 900.3 138.35 901.3 138.35 901.3 141.33 903.8 141.33 903.8 139.03 905.8 139.03 905.8 138.89 907.3 138.89 907.3 140.11 908.8 140.11 908.8 140.78 910.8 140.78 910.8 137.58 911.8 137.58 911.8 140.49 913.8 140.49 913.8 133.57 915.8 133.57 915.8 138.89 917.3 138.89 917.3 141.07 919.3 141.07 919.3 136.16 921.3 136.16 921.3 135.76 922.3 135.76 922.3 139.25 924.3 139.25 924.3 137.35 926.3 137.35 926.3 140.22 928.8 140.22 928.8 136.18 930.8 136.18 930.8 140.76 933.8 140.76 933.8 139.69 936.8 139.69 936.8 139.73 939.3 139.73 939.3 141.3 941.3 141.3 941.3 141.15 942.8 141.15 942.8 137.94 945.8 137.94 945.8 134.62 948.3 134.62 948.3 136.83 951.3 136.83 951.3 141.65 953.3 141.65 953.3 139.43 954.8 139.43 954.8 132.49 955.8 132.49 955.8 137.83 958.8 137.83 958.8 131.7 960.8 131.7 960.8 140 962.8 140 962.8 139.23 965.3 139.23 965.3 140.87 967.8 140.87 967.8 138.37 970.3 138.37 970.3 137.28 972.3 137.28 972.3 140.03 974.3 140.03 974.3 140.31 975.3 140.31 975.3 141.63 976.8 141.63 976.8 141.54 979.3 141.54 979.3 141.17 982.3 141.17 982.3 139.34 983.3 139.34 983.3 138.8 985.8 138.8 985.8 126.46 987.3 126.46 987.3 134.7 988.3 134.7 988.3 138.82 991.3 138.82 991.3 136.34 993.3 136.34 993.3 137.81 994.8 137.81 994.8 137.13 996.8 137.13 996.8 140.74 999.8 140.74 999.8 139.93 1002.8 139.93 1002.8 137.91 1004.8 137.91 1004.8 139.32 1006.8 139.32 1006.8 131.7 1008.3 131.7 1008.3 141.68 1009.8 141.68 1009.8 139.93 1011.8 139.93 1011.8 132.68 1013.8 132.68 1013.8 140.48 1015.3 140.48 1015.3 138.82 1018.3 138.82 1018.3 141.44 1020.3 141.44 1020.3 138.71 1021.3 138.71 1021.3 131.7 1023.3 131.7 1023.3 139.8 1026.3 139.8 1026.3 135.5 1027.3 135.5 1027.3 140.6 1028.8 140.6 1028.8 136.87 1029.8 136.87 1029.8 137.56 1031.3 137.56 1031.3 139.68 1033.3 139.68 1033.3 134.91 1035.3 134.91 1035.3 140.76 1036.8 140.76 1036.8 138.58 1038.3 138.58 1038.3 140.28 1040.8 140.28 1040.8 140.63 1042.3 140.63 1042.3 138.23 1043.3 138.23 1043.3 140.38 1044.8 140.38 1044.8 138.14 1045.8 138.14 1045.8 136.22 1048.8 136.22 1048.8 136.29 1050.8 136.29 1050.8 140.32 1053.3 140.32 1053.3 139.97 1055.8 139.97 1055.8 141.61 1056.8 141.61 1056.8 131.7 1059.8 131.7 1059.8 137.49 1062.3 137.49 1062.3 141.37 1063.8 141.37 1063.8 139.14 1065.3 139.14 1065.3 135.98 1067.3 135.98 1067.3 137.82 1069.8 137.82 1069.8 138.06 1071.3 138.06 1071.3 140.81 1073.3 140.81 1073.3 133.9 1076.3 133.9 1076.3 136.66 1079.3 136.66 1079.3 138.91 1081.3 138.91 1081.3 132.08 1083.8 132.08 1083.8 138.92 1084.8 138.92 1084.8 141.15 1086.8 141.15 1086.8 136.9 1088.8 136.9 1088.8 138.37 1089.8 138.37 1089.8 139.33 1092.3 139.33 1092.3 140.68 1093.8 140.68 1093.8 141.15 1096.8 141.15 1096.8 135.12 1099.8 135.12 1099.8 141.6 1102.3 141.6 1102.3 139.72 1103.8 139.72 1103.8 138.26 1105.3 138.26 1105.3 139.6 1107.3 139.6 1107.3 141.31 1108.3 141.31 1108.3 136.11 1109.3 136.11 1109.3 134.92 1112.3 134.92 1112.3 140.1 1114.8 140.1 1114.8 131.84 1116.8 131.84 1116.8 135.76 1118.3 135.76 1118.3 140.81 1119.8 140.81 1119.8 138.2 1121.8 138.2 1121.8 140.87 1123.8 140.87 1123.8 139.49 1125.3 139.49 1125.3 131.7 1127.3 131.7 1127.3 140.57 1129.3 140.57 1129.3 134.71 1131.3 134.71 1131.3 137.8 1133.3 137.8 1133.3 140.89 1135.3 140.89 1135.3 135.22 1136.8 135.22 1136.8 136.55 1137.8 136.55 1137.8 139.76 1139.3 139.76 1139.3 137.77 1141.3 137.77 1141.3 125.05 1142.8 125.05 1142.8 139.33 1144.3 139.33 1144.3 139.58 1145.8 139.58 1145.8 140.29 1147.8 140.29 1147.8 139.98 1150.8 139.98 1150.8 138.71 1151.8 138.71 1151.8 132.7 1154.8 132.7 1154.8 138.79 1156.3 138.79 1156.3 141.63 1159.3 141.63 1159.3 141.47 1161.3 141.47 1161.3 131.7 1163.3 131.7 1163.3 141.03 1164.3 141.03 1164.3 138.29 1165.8 138.29 1165.8 139.13 1166.8 139.13 1166.8 140.24 1167.8 140.24 1167.8 137.23 1169.3 137.23 1169.3 141.65 1170.8 141.65 1170.8 140.96 1171.8 140.96 1171.8 131.7 1174.3 131.7 1174.3 137.74 1176.3 137.74 1176.3 140.57 1178.8 140.57 1178.8 131.7 1180.8 131.7 1180.8 140.64 1183.3 140.64 1183.3 146.34 1181.8 146.34 1181.8 146.12 1179.8 146.12 1179.8 146.51 1177.8 146.51 1177.8 145.84 1175.8 145.84 1175.8 146.76 1173.8 146.76 1173.8 146.77 1170.8 146.77 1170.8 145.98 1169.3 145.98 1169.3 145.99 1168.3 145.99 1168.3 146.46 1166.3 146.46 1166.3 146.2 1163.8 146.2 1163.8 146.04 1161.3 146.04 1161.3 145.82 1159.8 145.82 1159.8 146.05 1157.8 146.05 1157.8 147.08 1154.8 147.08 1154.8 145.26 1151.8 145.26 1151.8 145.47 1148.8 145.47 1148.8 145.66 1146.8 145.66 1146.8 146.09 1144.3 146.09 1144.3 146.22 1142.3 146.22 1142.3 146.12 1140.8 146.12 1140.8 146.9 1137.8 146.9 1137.8 146.2 1135.3 146.2 1135.3 146.51 1134.3 146.51 1134.3 147.23 1131.8 147.23 1131.8 146.63 1130.3 146.63 1130.3 146.21 1128.3 146.21 1128.3 146.14 1126.3 146.14 1126.3 145.37 1125.3 145.37 1125.3 146.09 1123.8 146.09 1123.8 146.01 1121.3 146.01 1121.3 145.69 1120.3 145.69 1120.3 146.11 1117.3 146.11 1117.3 146.17 1115.3 146.17 1115.3 146.47 1113.3 146.47 1113.3 146.88 1110.3 146.88 1110.3 145.84 1107.8 145.84 1107.8 145.87 1104.8 145.87 1104.8 146.08 1101.8 146.08 1101.8 146.66 1099.8 146.66 1099.8 146.52 1097.8 146.52 1097.8 146.82 1095.8 146.82 1095.8 145.74 1092.8 145.74 1092.8 147.15 1091.3 147.15 1091.3 145.74 1089.3 145.74 1089.3 146.59 1086.3 146.59 1086.3 145.45 1083.8 145.45 1083.8 146.14 1081.8 146.14 1081.8 146.01 1078.8 146.01 1078.8 146.72 1077.8 146.72 1077.8 146.2 1076.3 146.2 1076.3 146.19 1074.3 146.19 1074.3 147.07 1072.8 147.07 1072.8 146.55 1070.3 146.55 1070.3 146.61 1067.8 146.61 1067.8 146.04 1065.8 146.04 1065.8 147.24 1063.3 147.24 1063.3 146.37 1061.8 146.37 1061.8 147.45 1059.8 147.45 1059.8 146.03 1057.8 146.03 1057.8 146.44 1056.3 146.44 1056.3 147.1 1053.3 147.1 1053.3 145.96 1050.3 145.96 1050.3 146.29 1047.8 146.29 1047.8 145.69 1044.8 145.69 1044.8 146.04 1043.3 146.04 1043.3 146.29 1041.3 146.29 1041.3 146.64 1038.8 146.64 1038.8 146.45 1036.8 146.45 1036.8 146.63 1035.3 146.63 1035.3 146.47 1032.8 146.47 1032.8 146.11 1030.3 146.11 1030.3 145.81 1028.3 145.81 1028.3 146.61 1027.3 146.61 1027.3 146.22 1026.3 146.22 1026.3 146.78 1024.3 146.78 1024.3 145.27 1022.3 145.27 1022.3 145.64 1020.3 145.64 1020.3 146.08 1017.3 146.08 1017.3 146.54 1015.3 146.54 1015.3 145.11 1013.3 145.11 1013.3 145.71 1010.3 145.71 1010.3 146.43 1008.3 146.43 1008.3 146.9 1005.3 146.9 1005.3 145.74 1002.3 145.74 1002.3 146.67 1000.8 146.67 1000.8 146.86 998.3 146.86 998.3 146.24 996.8 146.24 996.8 146.12 994.8 146.12 994.8 146.43 991.8 146.43 991.8 147.41 989.3 147.41 989.3 145.81 986.8 145.81 986.8 146.62 983.8 146.62 983.8 146.45 981.3 146.45 981.3 145.26 978.3 145.26 978.3 146.17 977.3 146.17 977.3 146.9 975.3 146.9 975.3 146.82 973.3 146.82 973.3 145.65 970.3 145.65 970.3 146.39 968.8 146.39 968.8 145.12 966.3 145.12 966.3 145.42 965.3 145.42 965.3 146.35 963.3 146.35 963.3 146.65 960.3 146.65 960.3 145.49 958.8 145.49 958.8 146.21 957.8 146.21 957.8 146.34 955.8 146.34 955.8 146.79 953.8 146.79 953.8 146.02 952.8 146.02 952.8 146.15 950.8 146.15 950.8 147.29 947.8 147.29 947.8 146.53 946.3 146.53 946.3 146.18 944.3 146.18 944.3 145.9 941.3 145.9 941.3 146.38 939.8 146.38 939.8 147.06 937.8 147.06 937.8 146.28 935.8 146.28 935.8 147.38 934.3 147.38 934.3 146.62 931.8 146.62 931.8 146.93 929.8 146.93 929.8 145.89 927.8 145.89 927.8 146.24 925.3 146.24 925.3 146.39 923.8 146.39 923.8 146.08 921.3 146.08 921.3 145.36 920.3 145.36 920.3 146.59 917.3 146.59 917.3 146.57 914.8 146.57 914.8 146.28 912.3 146.28 912.3 146.09 909.3 146.09 909.3 145.97 907.3 145.97 907.3 146.52 906.3 146.52 906.3 145.58 905.3 145.58 905.3 145.91 903.3 145.91 903.3 146.2 902.3 146.2 902.3 145.87 900.8 145.87 900.8 145.51 897.8 145.51 897.8 146.31 895.8 146.31 895.8 147.39 894.8 147.39 894.8 145.59 893.3 145.59 893.3 146.11 891.8 146.11 891.8 146.39 890.3 146.39 890.3 145.92 888.3 145.92 888.3 146.3 886.8 146.3 886.8 146.57 884.3 146.57 884.3 146.54 881.8 146.54 881.8 146.03 880.8 146.03 880.8 146.53 878.3 146.53 878.3 146.43 877.3 146.43 877.3 146.38 875.8 146.38 875.8 146.33 873.8 146.33 873.8 146.22 871.8 146.22 871.8 146.92 869.8 146.92 869.8 146.77 868.8 146.77 868.8 145.73 867.3 145.73 867.3 146.57 864.3 146.57 864.3 146.92 862.3 146.92 862.3 145.99 859.8 145.99 859.8 146.04 857.8 146.04 857.8 146.33 856.8 146.33 856.8 146.79 855.8 146.79 855.8 145.55 853.8 145.55 853.8 146.36 852.8 146.36 852.8 146.12 850.3 146.12 850.3 145.99 847.3 145.99 847.3 146.8 846.3 146.8 846.3 146.93 844.8 146.93 844.8 146.25 842.8 146.25 842.8 145.76 840.8 145.76 840.8 146.49 838.8 146.49 838.8 146.11 835.8 146.11 835.8 146.11 834.3 146.11 834.3 146.65 833.3 146.65 833.3 146.14 830.8 146.14 830.8 146.31 828.3 146.31 828.3 147.25 826.8 147.25 826.8 146.06 824.8 146.06 824.8 146.15 823.3 146.15 823.3 145.99 820.8 145.99 820.8 146.3 818.3 146.3 818.3 145.21 816.8 145.21 816.8 145.61 815.8 145.61 815.8 146.2 814.8 146.2 814.8 146.13 812.8 146.13 812.8 145.79 810.3 145.79 810.3 146.99 807.3 146.99 807.3 147.02 805.3 147.02 805.3 146.64 804.3 146.64 804.3 145.95 802.3 145.95 802.3 146.47 800.8 146.47 800.8 146.29 799.8 146.29 799.8 146.91 796.8 146.91 796.8 146.01 793.8 146.01 793.8 146.13 792.3 146.13 792.3 146.64 790.3 146.64 790.3 146.93 788.8 146.93 788.8 146.72 787.3 146.72 787.3 146.56 784.8 146.56 784.8 146.06 783.3 146.06 783.3 145.45 780.3 145.45 780.3 146.43 777.8 146.43 777.8 146.66 776.3 146.66 776.3 146.49 775.3 146.49 775.3 145.36 773.8 145.36 773.8 146.97 772.3 146.97 772.3 145.68 770.3 145.68 770.3 146.05 768.3 146.05 768.3 146.04 765.3 146.04 765.3 146.69 764.3 146.69 764.3 146.14 762.8 146.14 762.8 145.64 761.3 145.64 761.3 145.96 758.3 145.96 758.3 146.35 755.8 146.35 755.8 145.38 754.3 145.38 754.3 146.05 751.3 146.05 751.3 145.9 749.8 145.9 749.8 146.18 747.3 146.18 747.3 146.2 744.3 146.2 744.3 146.12 741.8 146.12 741.8 146.39 740.8 146.39 740.8 146.39 737.8 146.39 737.8 146.08 735.8 146.08 735.8 146.32 734.3 146.32 734.3 146.53 732.3 146.53 732.3 145.08 729.8 145.08 729.8 146.53 727.3 146.53 727.3 146.3 725.3 146.3 725.3 146.28 723.3 146.28 723.3 146.54 721.3 146.54 721.3 146.09 718.8 146.09 718.8 145.7 717.8 145.7 717.8 146.14 715.8 146.14 715.8 146.05 712.8 146.05 712.8 146.01 710.8 146.01 710.8 146.61 708.8 146.61 708.8 145.55 707.3 145.55 707.3 145.76 705.3 145.76 705.3 146.4 703.3 146.4 703.3 146.79 701.8 146.79 701.8 145.9 700.3 145.9 700.3 146.44 698.3 146.44 698.3 146.55 696.3 146.55 696.3 146.07 695.3 146.07 695.3 146.84 692.3 146.84 692.3 145.38 689.8 145.38 689.8 146.55 687.8 146.55 687.8 146.05 686.8 146.05 686.8 146.17 684.8 146.17 684.8 146.6 683.3 146.6 683.3 146.49 682.3 146.49 682.3 146.06 680.8 146.06 680.8 146.19 677.8 146.19 677.8 147.12 676.3 147.12 676.3 145.72 673.8 145.72 673.8 146.01 671.3 146.01 671.3 145.64 670.3 145.64 670.3 146.06 668.8 146.06 668.8 146.13 665.8 146.13 665.8 146.05 664.3 146.05 664.3 145.99 663.3 145.99 663.3 146.3 660.8 146.3 660.8 146.44 659.8 146.44 659.8 146.46 657.8 146.46 657.8 146.63 655.8 146.63 655.8 146.08 652.8 146.08 652.8 145.69 651.8 145.69 651.8 146.17 650.3 146.17 650.3 146.13 647.3 146.13 647.3 145.27 645.8 145.27 645.8 145.86 643.8 145.86 643.8 146.62 642.3 146.62 642.3 145.76 640.3 145.76 640.3 146.48 637.3 146.48 637.3 146.6 635.3 146.6 635.3 146.7 634.3 146.7 634.3 146.8 631.3 146.8 631.3 145.19 628.8 145.19 628.8 146.46 626.8 146.46 626.8 146.68 625.8 146.68 625.8 146.73 623.8 146.73 623.8 145.69 621.3 145.69 621.3 147.44 618.3 147.44 618.3 146.68 615.8 146.68 615.8 147.17 614.3 147.17 614.3 146.27 612.3 146.27 612.3 146.49 610.3 146.49 610.3 145.58 608.3 145.58 608.3 146.3 606.3 146.3 606.3 146.1 604.3 146.1 604.3 145.1 601.3 145.1 601.3 146.42 598.8 146.42 598.8 147.11 596.8 147.11 596.8 147.07 595.3 147.07 595.3 146.11 594.3 146.11 594.3 145.62 593.3 145.62 593.3 146.59 591.3 146.59 591.3 146.19 589.3 146.19 589.3 146.92 587.3 146.92 587.3 146.55 584.8 146.55 584.8 146.82 583.8 146.82 583.8 146.4 581.3 146.4 581.3 146.61 580.3 146.61 580.3 145.94 577.8 145.94 577.8 146.15 575.8 146.15 575.8 145.83 573.8 145.83 573.8 146.81 571.8 146.81 571.8 146.64 569.3 146.64 569.3 145.59 567.8 145.59 567.8 145.66 565.8 145.66 565.8 146.73 564.8 146.73 564.8 146.06 562.8 146.06 562.8 146.9 560.8 146.9 560.8 145.96 558.3 145.96 558.3 146.75 555.8 146.75 555.8 145.71 554.8 145.71 554.8 146.62 552.8 146.62 552.8 145.54 551.8 145.54 551.8 146.63 549.8 146.63 549.8 145.99 548.8 145.99 548.8 147.29 545.8 147.29 545.8 146.73 543.8 146.73 543.8 145.94 540.8 145.94 540.8 146.07 539.3 146.07 539.3 146.49 537.3 146.49 537.3 146.29 534.8 146.29 534.8 146.54 532.8 146.54 532.8 146.97 531.3 146.97 531.3 146.12 529.8 146.12 529.8 145.64 527.8 145.64 527.8 147.16 524.8 147.16 524.8 146.13 522.8 146.13 522.8 145.49 520.3 145.49 520.3 146.42 517.3 146.42 517.3 145.41 516.3 145.41 516.3 145.7 513.8 145.7 513.8 146.74 511.8 146.74 511.8 147.46 508.8 147.46 508.8 145.22 506.8 145.22 506.8 146.46 503.8 146.46 503.8 145.31 502.3 145.31 502.3 144.84 500.3 144.84 500.3 145.22 497.8 145.22 497.8 146.18 495.8 146.18 495.8 147.42 494.8 147.42 494.8 145.67 491.8 145.67 491.8 146.84 489.3 146.84 489.3 145.88 486.8 145.88 486.8 146.11 483.8 146.11 483.8 146.33 482.8 146.33 482.8 146.02 480.3 146.02 480.3 146.09 478.8 146.09 478.8 145.89 477.3 145.89 477.3 145.83 474.3 145.83 474.3 146.79 472.3 146.79 472.3 146.24 471.3 146.24 471.3 145.59 468.3 145.59 468.3 146.86 466.3 146.86 466.3 146.85 464.3 146.85 464.3 145.03 461.8 145.03 Z" fill="#0072bd"/>
<path d="M479.1 146.2 L480.4 72.9 L481.6 72.9 L483.1 146.2 Z M559.4 146.2 L560.7 87 L561.9 87 L563.4 146.2 Z M571.1 146.2 L572.4 93 L573.6 93 L575.1 146.2 Z M655.1 146.2 L656.4 61.6 L657.6 61.6 L659.1 146.2 Z M670.8 146.2 L672.1 64 L673.3 64 L674.8 146.2 Z M681.1 146.2 L682.4 83 L683.6 83 L685.1 146.2 Z M730.9 146.2 L732.2 77.1 L733.4 77.1 L734.9 146.2 Z M784.3 146.2 L785.6 77.8 L786.8 77.8 L788.3 146.2 Z M800.1 146.2 L801.4 90 L802.6 90 L804.1 146.2 Z M810.6 146.2 L811.9 78.8 L813.1 78.8 L814.6 146.2 Z M821.8 146.2 L823.1 83.4 L824.3 83.4 L825.8 146.2 Z M836.6 146.2 L837.9 64.7 L839.1 64.7 L840.6 146.2 Z M880.6 146.2 L881.9 75.5 L883.1 75.5 L884.6 146.2 Z M894.8 146.2 L896.1 84.4 L897.3 84.4 L898.8 146.2 Z M975.6 146.2 L976.9 88.7 L978.1 88.7 L979.6 146.2 Z M1062.4 146.2 L1063.7 68 L1064.9 68 L1066.4 146.2 Z M1102.1 146.2 L1103.4 64 L1104.6 64 L1106.1 146.2 Z M1153.4 146.2 L1154.7 82 L1155.9 82 L1157.4 146.2 Z " fill="#0072bd" stroke="#0072bd" stroke-width="0.6" stroke-linejoin="round"/>
<path d="M461.5 21 V269.5" fill="none" stroke="#262626" stroke-width="1"/>
<path d="M461.5 269.5 H1182.5" fill="none" stroke="#595959" stroke-width="1"/>
<text x="461.5" y="291.6" font-size="18.9" text-anchor="middle" font-weight="normal" >0</text>
<path d="M641.75 269.5 V262" stroke="#595959" stroke-width="1"/>
<text x="641.75" y="291.6" font-size="18.9" text-anchor="middle" font-weight="normal" >0.25</text>
<path d="M822 269.5 V262" stroke="#595959" stroke-width="1"/>
<text x="822" y="291.6" font-size="18.9" text-anchor="middle" font-weight="normal" >0.5</text>
<path d="M1002.25 269.5 V262" stroke="#595959" stroke-width="1"/>
<text x="1002.25" y="291.6" font-size="18.9" text-anchor="middle" font-weight="normal" >0.75</text>
<path d="M1182.5 269.5 V262" stroke="#595959" stroke-width="1"/>
<text x="1182.5" y="291.6" font-size="18.9" text-anchor="middle" font-weight="normal" >1.00</text>
<text x="821.6" y="319.7" font-size="18.9" text-anchor="middle" font-weight="normal" >Time (s)</text>
<text x="448" y="145.35" font-size="18.9" text-anchor="middle" font-weight="normal" transform="rotate(-90 448 145.35)">Normalized signal</text>
<path d="M468.4 32 L490.6 32 L479.5 51.6 Z M475.6 36 L483.4 36 L479.5 42.6 Z" fill="#7e2f8e" fill-rule="evenodd"/>
<path d="M548.9 32 L571.1 32 L560 51.6 Z M556.1 36 L563.9 36 L560 42.6 Z" fill="#7e2f8e" fill-rule="evenodd"/>
<path d="M560.15 32 L582.35 32 L571.25 51.6 Z M567.35 36 L575.15 36 L571.25 42.6 Z" fill="#7e2f8e" fill-rule="evenodd"/>
<path d="M645.15 32 L667.35 32 L656.25 51.6 Z M652.35 36 L660.15 36 L656.25 42.6 Z" fill="#7e2f8e" fill-rule="evenodd"/>
<path d="M660.15 32 L682.35 32 L671.25 51.6 Z M667.35 36 L675.15 36 L671.25 42.6 Z" fill="#7e2f8e" fill-rule="evenodd"/>
<path d="M670.15 32 L692.35 32 L681.25 51.6 Z M677.35 36 L685.15 36 L681.25 42.6 Z" fill="#7e2f8e" fill-rule="evenodd"/>
<path d="M720.65 32 L742.85 32 L731.75 51.6 Z M727.85 36 L735.65 36 L731.75 42.6 Z" fill="#7e2f8e" fill-rule="evenodd"/>
<path d="M773.4 32 L795.6 32 L784.5 51.6 Z M780.6 36 L788.4 36 L784.5 42.6 Z" fill="#7e2f8e" fill-rule="evenodd"/>
<path d="M788.4 32 L810.6 32 L799.5 51.6 Z M795.6 36 L803.4 36 L799.5 42.6 Z" fill="#7e2f8e" fill-rule="evenodd"/>
<path d="M799.3 32 L821.5 32 L810.4 51.6 Z M806.5 36 L814.3 36 L810.4 42.6 Z" fill="#7e2f8e" fill-rule="evenodd"/>
<path d="M810.6 32 L832.8 32 L821.7 51.6 Z M817.8 36 L825.6 36 L821.7 42.6 Z" fill="#7e2f8e" fill-rule="evenodd"/>
<path d="M825.9 32 L848.1 32 L837 51.6 Z M833.1 36 L840.9 36 L837 42.6 Z" fill="#7e2f8e" fill-rule="evenodd"/>
<path d="M870.1 32 L892.3 32 L881.2 51.6 Z M877.3 36 L885.1 36 L881.2 42.6 Z" fill="#7e2f8e" fill-rule="evenodd"/>
<path d="M883.6 32 L905.8 32 L894.7 51.6 Z M890.8 36 L898.6 36 L894.7 42.6 Z" fill="#7e2f8e" fill-rule="evenodd"/>
<path d="M965 32 L987.2 32 L976.1 51.6 Z M972.2 36 L980 36 L976.1 42.6 Z" fill="#7e2f8e" fill-rule="evenodd"/>
<path d="M1052 32 L1074.2 32 L1063.1 51.6 Z M1059.2 36 L1067 36 L1063.1 42.6 Z" fill="#7e2f8e" fill-rule="evenodd"/>
<path d="M1091.7 32 L1113.9 32 L1102.8 51.6 Z M1098.9 36 L1106.7 36 L1102.8 42.6 Z" fill="#7e2f8e" fill-rule="evenodd"/>
<path d="M1142.1 32 L1164.3 32 L1153.2 51.6 Z M1149.3 36 L1157.1 36 L1153.2 42.6 Z" fill="#7e2f8e" fill-rule="evenodd"/>
<g fill="none" stroke="#ff0000" stroke-width="2" stroke-dasharray="16.4 9.6">
<path d="M734.2 21.65 H844.4" stroke-dashoffset="-0.8"/>
<path d="M735.2 20.65 V269" stroke-dashoffset="3.65"/>
<path d="M843.4 20.65 V269" stroke-dashoffset="3.65"/>
<path d="M843.4 269 H735.2" stroke-dashoffset="19.6"/>
</g>
<g fill="none" stroke="#ff0000" stroke-width="1.5" stroke-dasharray="12.7 6.6">
<path d="M735 269 L461.5 366"/>
<path d="M843.5 269 L1182.5 366"/>
</g>
<path d="M568.3 395.5 H633" stroke="#000" stroke-width="2.4"/>
<text x="642" y="401.5" font-size="18.9" text-anchor="start" font-weight="normal" >Raw</text>
<path d="M707.9 387.3 L730.1 387.3 L719 406.9 Z M715.1 391.3 L722.9 391.3 L719 397.9 Z" fill="#7e2f8e" fill-rule="evenodd"/>
<text x="738.5" y="401.5" font-size="18.9" text-anchor="start" font-weight="normal" >True spike occurrence</text>
<path d="M965.3 395.4 H1030" stroke="#0072bd" stroke-width="2.4"/>
<text x="1038.2" y="401.3" font-size="18.9" text-anchor="start" font-weight="normal" >SBP</text>
<path d="M777.7 424.2 L799.9 424.2 L788.8 443.8 Z M784.9 428.2 L792.7 428.2 L788.8 434.8 Z" fill="#7e2f8e" fill-rule="evenodd"/>
<path d="M880.1 424.2 L902.3 424.2 L891.2 443.8 Z M887.3 428.2 L895.1 428.2 L891.2 434.8 Z" fill="#7e2f8e" fill-rule="evenodd"/>
<path d="M950.5 424.2 L972.7 424.2 L961.6 443.8 Z M957.7 428.2 L965.5 428.2 L961.6 434.8 Z" fill="#7e2f8e" fill-rule="evenodd"/>
<path d="M1024.9 424.2 L1047.1 424.2 L1036 443.8 Z M1032.1 428.2 L1039.9 428.2 L1036 434.8 Z" fill="#7e2f8e" fill-rule="evenodd"/>
<path d="M1126.9 424.2 L1149.1 424.2 L1138 443.8 Z M1134.1 428.2 L1141.9 428.2 L1138 434.8 Z" fill="#7e2f8e" fill-rule="evenodd"/>
<path d="M461.7 497.83 463.7 497.6 465.7 497.49 467.7 497.77 469.7 496.82 471.7 495.19 473.7 497.59 475.7 496.77 477.7 497.53 479.7 495.61 481.7 496.46 483.7 495.55 485.7 498.7 487.7 496.47 489.7 492.04 491.7 496.15 493.7 496.62 495.7 497.02 497.7 497.38 499.7 496.55 501.7 493.5 503.7 495.39 505.7 494.94 507.7 497.15 509.7 496.01 511.7 496.46 513.7 497.84 515.7 497.8 517.7 498.86 519.7 493.27 521.7 492.17 523.7 495.05 525.7 496.97 527.7 495.93 529.7 497.74 531.7 497.46 533.7 495.15 535.7 497.03 537.7 495.82 539.7 496.92 541.7 495.15 543.7 498.06 545.7 498.15 547.7 496.94 549.7 497.37 551.7 496.9 553.7 493.82 555.7 498.78 557.7 496.72 559.7 498.72 561.7 494.13 563.7 494.46 565.7 497.61 567.7 497.1 569.7 494.45 571.7 496.37 573.7 496.34 575.7 497.36 577.7 498.74 579.7 493.22 581.7 492.58 583.7 496.68 585.7 497.17 587.7 496.13 589.7 496.49 591.7 497.3 593.7 498.99 595.7 497.87 597.7 493.61 599.7 497.73 601.7 497.82 603.7 496.12 605.7 497.26 607.7 496.87 609.7 497.64 611.7 496.39 613.7 497.25 615.7 496.87 617.7 498.28 619.7 496.96 621.7 494.57 623.7 496.93 625.7 492.12 627.7 496.75 629.7 495.61 631.7 497.73 633.7 498.21 635.7 497.6 637.7 497.17 639.7 495.5 641.7 495.96 643.7 497.19 645.7 495.89 647.7 497.32 649.7 494.03 651.7 495.9 653.7 496.54 655.7 499.17 657.7 497.29 659.7 498.06 661.7 496.87 663.7 496.18 665.7 495.22 667.7 491.75 669.7 496.5 671.7 496.71 673.7 497.07 675.7 497.8 677.7 497.38 679.7 495.58 681.7 497.14 683.7 494.25 685.7 494.25 687.7 495.72 689.7 497.36 691.7 496.65 693.7 493.99 695.7 495.79 697.7 497.88 699.7 496.09 701.7 491.08 703.7 496.71 705.7 496.79 707.7 497.13 709.7 497.99 711.7 494.08 713.7 495.77 715.7 494.75 717.7 496.74 719.7 497.28 721.7 498.47 723.7 497.68 725.7 492.47 727.7 499.14 729.7 498.63 731.7 497.21 733.7 492.19 735.7 494.23 737.7 495.58 739.7 497.51 741.7 495.94 743.7 493.71 745.7 496.62 747.7 496.9 749.7 492.67 751.7 493.64 753.7 495.97 755.7 496.56 757.7 497.21 759.7 496.73 761.7 497.36 763.7 497.27 765.7 496.62 767.7 497.04 769.7 496.44 771.7 495.12 773.7 496.88 775.7 496.01 777.7 496.3 779.7 495.89 781.7 496.07 783.7 497.64 785.7 494.88 787.7 498.48 789.7 497.29 791.7 497.45 792.3 497 794.5 483 796.5 470 798.5 462 800.4 458.5 802.7 496 804.8 480 806.8 496 809 491 812 489.6 815 495.5 815.7 497.78 817.7 496.57 819.7 498.37 821.7 491.48 823.7 496.45 825.7 498.29 827.7 497.58 829.7 496.87 831.7 494.71 833.7 496.44 835.7 493.79 837.7 494.57 839.7 497.14 841.7 496.91 843.7 497.62 845.7 496.96 847.7 496.4 849.7 495.46 851.7 496.99 853.7 497.24 855.7 496.85 857.7 499.58 859.7 496.25 861.7 495.88 863.7 494.58 865.7 495.25 867.7 494.36 869.7 497.1 871.7 494.52 873.7 496.38 875.7 496.6 877.7 491.23 879.7 491.56 881.7 498.58 883.7 498.1 885.7 495.58 887.7 497.65 889.7 497.04 891.7 496.28 893.7 495.88 895.7 497.28 897 497 899 473 900.8 491 903.8 465.9 905.5 478 906.8 481.7 908.2 483 910.2 494.6 912.7 489.5 915 496.5 915.7 496.78 917.7 497.96 919.7 497.24 921.7 497.66 923.7 496.29 925.7 492.3 927.7 494.34 929.7 493.26 931.7 493.72 933.7 496.57 935.7 495.39 937.7 498.07 939.7 494.7 941.7 495.17 943.7 496.95 945.7 495.71 947.7 497.3 949.7 496.62 951.7 497.04 953.7 497.61 955.7 497.68 957.7 497.39 959.7 496.95 961.7 496.61 963.7 497.41 965.7 493.47 967.7 492.59 968.4 497 971 482 973.5 459.3 975.9 493 978.3 478.2 980.4 496.7 984 496 987.8 492.5 990 496.5 991.7 495.88 993.7 497.24 995.7 494.95 997.7 495.82 999.7 499.43 1001.7 497.19 1003.7 494.57 1005.7 496.82 1007.7 496.49 1009.7 496.52 1011.7 498.1 1013.7 497 1015.7 496.55 1017.7 497.92 1019.7 497.96 1021.7 497.14 1023.7 498.37 1025.7 497 1027.7 493.2 1029.7 491.54 1031.7 497.32 1033.7 497.44 1035.7 497.26 1037.7 496.78 1039.7 496.06 1041.7 496.44 1044 497 1046 478 1047.7 462.3 1049.5 480 1051.2 486 1053 489 1055 495 1058 496 1059.7 493.96 1061.7 496.01 1063.7 495.46 1065.7 496.07 1067.7 497.14 1069.7 497.37 1071.7 497.64 1073.7 498.4 1075.7 496.19 1077.7 493.81 1079.7 496.2 1081.7 496.2 1083.7 498.13 1085.7 497.07 1087.7 496.62 1089.7 496.5 1091.7 497.11 1093.7 498.06 1095.7 494.85 1097.7 498.38 1099.7 496.91 1101.7 496.06 1103.7 497.49 1105.7 497.51 1107.7 497.53 1109.7 497.12 1111.7 498.17 1113.7 497.62 1115.7 496.04 1117.7 498.23 1119.7 496.81 1121.7 497.02 1123.7 495.25 1125.7 498.87 1127.7 496.11 1129.7 495.89 1131.7 497.56 1133.7 498.61 1135.7 497.59 1137.7 495.78 1139.7 493.06 1142 497 1144 475 1146.3 451.3 1148.5 463 1150.5 474 1152.3 480.9 1155 485 1157.5 494 1160 496 1161.3 490 1163 496.5 1163.7 497.23 1165.7 497.37 1167.7 496.86 1169.7 498.77 1171.7 496.35 1173.7 497.03 1175.7 497.55 1177.7 497.18 1179.7 496.85 1181.7 496.29" fill="none" stroke="#0072bd" stroke-width="2.2" stroke-linejoin="round"/>
<path d="M461.7 552.59 462.03 565.96 462.36 554.74 462.69 568.85 463.02 554.64 463.35 569.68 463.68 556.79 464.01 564.76 464.34 554.33 464.67 567.42 465 555.31 465.33 565 465.66 555.34 465.99 563.95 466.32 555.02 466.65 565.21 466.98 556.78 467.31 567.19 467.64 550.72 467.97 564.33 468.3 550.7 468.63 564.24 468.96 556.4 469.29 566.26 469.62 553.09 469.95 567.72 470.28 550.53 470.61 568.69 470.94 556.03 471.27 566.31 471.6 555.38 471.93 565.65 472.26 555.42 472.59 565.39 472.92 556 473.25 570.43 473.58 554.88 473.91 572.87 474.24 556.05 474.57 566.31 474.9 554.44 475.23 568.86 475.56 551.85 475.89 564.88 476.22 555.92 476.55 563.67 476.88 554.72 477.21 563.2 477.54 549.55 477.87 566.41 478.2 554.42 478.53 563.63 478.86 553.52 479.19 566.25 479.52 553.24 479.85 563.51 480.18 555.97 480.51 567.8 480.84 556.7 481.17 564.87 481.5 553.42 481.83 564.69 482.16 553.96 482.49 563.32 482.82 555.61 483.15 565.47 483.48 555.11 483.81 567.14 484.14 555.39 484.47 569.67 484.8 553.99 485.13 566.14 485.46 548.62 485.79 567.1 486.12 555.62 486.45 564.28 486.78 551.53 487.11 564.56 487.44 556.8 487.77 564.09 488.1 548.29 488.43 564.04 488.76 553.91 489.09 566.25 489.42 554.53 489.75 565.3 490.08 550.94 490.41 565.78 490.74 556.44 491.07 567.25 491.4 553.56 491.73 565.05 492.06 548.45 492.39 568.73 492.72 553.87 493.05 564.04 493.38 556.76 493.71 565.14 494.04 555.8 494.37 563.95 494.7 554.46 495.03 567.23 495.36 555.79 495.69 565.11 496.02 553.86 496.35 569.04 496.68 553.75 497.01 564.63 497.34 554.87 497.67 565.09 498 555.04 498.33 563.35 498.66 556.61 498.99 569.56 499.32 550.26 499.65 568.45 499.98 547.13 500.31 564.7 500.64 554.38 500.97 565.01 501.3 550.8 501.63 564.38 501.96 556.79 502.29 565.1 502.62 553.51 502.95 572.46 503.28 551.27 503.61 567.56 503.94 555.4 504.27 565.56 504.6 556.85 504.93 567.5 505.26 554.74 505.59 563.13 505.92 554.85 506.25 565.79 506.58 553.92 506.91 568.85 507.24 555.6 507.57 565.16 507.9 550.53 508.23 566.64 508.56 553.59 508.89 566.97 509.22 550.22 509.55 563.44 509.88 550.28 510.21 568.32 510.54 553.6 510.87 564.06 511.2 552.71 511.53 569.02 511.86 556.62 512.19 566.8 512.52 554.37 512.85 565.64 513.18 555.61 513.51 564.34 513.84 555.75 514.17 571.68 514.5 552.19 514.83 566.03 515.16 551.9 515.49 567.37 515.82 556.68 516.15 571.98 516.48 552.92 516.81 574.53 517.14 556.08 517.47 569.64 517.8 555.82 518.13 565.82 518.46 554.82 518.79 566.25 519.12 555.86 519.45 564.81 519.78 553.49 520.11 563.88 520.44 555.42 520.77 566.33 521.1 552.68 521.43 569.45 521.76 555.42 522.09 564.51 522.42 550.89 522.75 565.5 523.08 554.42 523.41 568.21 523.74 549.28 524.07 565.4 524.4 552.79 524.73 564.3 525.06 553.28 525.39 568.92 525.72 555.38 526.05 570.91 526.38 556.18 526.71 566.56 527.04 556.99 527.37 564.84 527.7 556.57 528.03 563.81 528.36 556.17 528.69 565.75 529.02 555.65 529.35 563.64 529.68 556.85 530.01 565.66 530.34 553.06 530.67 563.96 531 553.79 531.33 572.4 531.66 554.92 531.99 568.26 532.32 553.44 532.65 565.77 532.98 551.74 533.31 566.84 533.64 553.93 533.97 570.54 534.3 555.3 534.63 563.84 534.96 550.59 535.29 566.93 535.62 552.43 535.95 563.53 536.28 549.87 536.61 567.13 536.94 555.62 537.27 565.36 537.6 554.53 537.93 565.89 538.26 551.04 538.59 564.59 538.92 550.72 539.25 569.26 539.58 551.78 539.91 564.16 540.24 551.21 540.57 565.62 540.9 555.41 541.23 563.76 541.56 549.67 541.89 564.1 542.22 556.09 542.55 566.65 542.88 555.86 543.21 569.51 543.54 556.1 543.87 565.67 544.2 547.72 544.53 571.38 544.86 553.42 545.19 564.59 545.52 554.7 545.85 571.93 546.18 555.99 546.51 566.24 546.84 553.91 547.17 568.71 547.5 555.05 547.83 567.64 548.16 551.06 548.49 563.01 548.82 550.77 549.15 570.85 549.48 551.87 549.81 563 550.14 556.29 550.47 565.44 550.8 552.72 551.13 565.71 551.46 556.52 551.79 571.04 552.12 551.14 552.45 569.93 552.78 556.77 553.11 563.84 553.44 548.44 553.77 563.13 554.1 548.93 554.43 568.83 554.76 547.73 555.09 563.63 555.42 554.93 555.75 563.82 556.08 552.1 556.41 568.29 556.74 552.18 557.07 565.5 557.4 556.82 557.73 566.21 558.06 552.79 558.39 565.31 558.72 555.27 559.05 563.35 559.38 553.35 559.71 563.13 560.04 555.63 560.37 569.5 560.7 556.75 561.03 566.06 561.36 554.53 561.69 563.26 562.02 550.09 562.35 568.22 562.68 555.42 563.01 568.07 563.34 555.79 563.67 569.54 564 555.51 564.33 569.12 564.66 555.92 564.99 570.56 565.32 555.83 565.65 563.6 565.98 552.94 566.31 564.49 566.64 555.7 566.97 563.78 567.3 555.25 567.63 568.76 567.96 554.22 568.29 566.46 568.62 548.05 568.95 573.64 569.28 553.49 569.61 568.85 569.94 556.92 570.27 565.66 570.6 554.82 570.93 566.49 571.26 554.5 571.59 565.3 571.92 555.52 572.25 565.39 572.58 554.74 572.91 564.33 573.24 555.1 573.57 567.34 573.9 555.15 574.23 567.18 574.56 547.01 574.89 566.97 575.22 547.41 575.55 563.83 575.88 554.39 576.21 563.47 576.54 555.13 576.87 564.22 577.2 556.24 577.53 564.36 577.86 553.86 578.19 572.96 578.52 553.93 578.85 565.13 579.18 553.68 579.51 564.69 579.84 555.55 580.17 566.72 580.5 552.4 580.83 569.54 581.16 556.59 581.49 563.2 581.82 553.22 582.15 568.24 582.48 553.56 582.81 567.47 583.14 553.44 583.47 564.95 583.8 553.93 584.13 564.38 584.46 551.44 584.79 564.97 585.12 556.08 585.45 572.73 585.78 554.67 586.11 566.02 586.44 552.78 586.77 568.68 587.1 551.92 587.43 566.22 587.76 551.84 588.09 571.13 588.42 553.13 588.75 564.24 589.08 556.18 589.41 564.81 589.74 551.26 590.07 567.31 590.4 553.52 590.73 563.59 591.06 552.36 591.39 563.6 591.72 551.44 592.05 569.43 592.38 554.11 592.71 566.99 593.04 551.84 593.37 565.45 593.7 553.44 594.03 563.52 594.36 552.84 594.69 566.57 595.02 556.3 595.35 566.03 595.68 554.28 596.01 565.88 596.34 551.24 596.67 569.71 597 553.88 597.33 563.78 597.66 553.33 597.99 569.45 598.32 553.73 598.65 568.17 598.98 554.4 599.31 563.36 599.64 550.26 599.97 565.64 600.3 555.26 600.63 565.29 600.96 554.07 601.29 564.11 601.62 556.34 601.95 569.35 602.28 548.8 602.61 568.18 602.94 548.42 603.27 565.84 603.6 549.3 603.93 567.86 604.26 554.6 604.59 564.05 604.92 556.9 605.25 570.91 605.58 555.67 605.91 564.16 606.24 552.33 606.57 567.8 606.9 548 607.23 569.28 607.56 555.68 607.89 563.32 608.22 556.4 608.55 563.59 608.88 555.54 609.21 568.45 609.54 555.19 609.87 564.54 610.2 554.69 610.53 567.98 610.86 552.05 611.19 572.34 611.52 549.88 611.85 571.54 612.18 553.35 612.51 564.59 612.84 556.94 613.17 565.91 613.5 544.17 613.83 565.06 614.16 556.32 614.49 565.39 614.82 556.02 615.15 565.08 615.48 553.12 615.81 568.27 616.14 552.42 616.47 564.78 616.8 556.56 617.13 563.95 617.46 550.43 617.79 565.62 618.12 553.1 618.45 565.01 618.78 553.02 619.11 566.68 619.44 554.91 619.77 566.43 620.1 549.57 620.43 565.76 620.76 552.59 621.09 565.62 621.42 555.45 621.75 564.94 622.08 552.45 622.41 567.1 622.74 549.8 623.07 563.21 623.4 555.92 623.73 567.69 624.06 549.85 624.39 563.25 624.72 551.9 625.05 566.06 625.38 551.15 625.71 565.75 626.04 548.47 626.37 568.5 626.7 548.16 627.03 565.54 627.36 554.39 627.69 565.31 628.02 554.74 628.35 565.22 628.68 551.17 629.01 567.03 629.34 555.24 629.67 570.21 630 550.91 630.33 563.35 630.66 554.2 630.99 569.12 631.32 556.58 631.65 568.48 631.98 552.7 632.31 569.63 632.64 553.8 632.97 563.23 633.3 555.53 633.63 563.78 633.96 550.91 634.29 565.86 634.62 552.99 634.95 568.45 635.28 549.19 635.61 566.88 635.94 553.39 636.27 565.18 636.6 555.44 636.93 563.7 637.26 556.68 637.59 564.84 637.92 556.67 638.25 564.94 638.58 554.02 638.91 566.13 639.24 556.54 639.57 566.05 639.9 556.29 640.23 568.74 640.56 553.18 640.89 565.69 641.22 556.51 641.55 565.74 641.88 555.17 642.21 565.66 642.54 550.83 642.87 569.53 643.2 543.84 643.53 567.92 643.86 552.33 644.19 565.31 644.52 554.58 644.85 569.29 645.18 549.32 645.51 565.17 645.84 549.03 646.17 568.69 646.5 555.02 646.83 563.34 647.16 556.99 647.49 565.24 647.82 556.43 648.15 564.2 648.48 552.02 648.81 563.37 649.14 556.87 649.47 565.12 649.8 554.46 650.13 565.95 650.46 556.96 650.79 570.35 651.12 552.54 651.45 563.95 651.78 550.32 652.11 567.06 652.44 556.17 652.77 563.66 653.1 552.61 653.43 563.99 653.76 555.74 654.09 569.34 654.42 551.86 654.75 570.75 655.08 556.14 655.41 564.99 655.74 556.2 656.07 564.86 656.4 555.15 656.73 567.33 657.06 555.76 657.39 565.05 657.72 552.9 658.05 564.93 658.38 556.32 658.71 565.96 659.04 554.59 659.37 564.48 659.7 552.41 660.03 566.06 660.36 550.24 660.69 564.24 661.02 553.64 661.35 566.62 661.68 554.35 662.01 566.42 662.34 549.78 662.67 568.13 663 554.93 663.33 568.69 663.66 556.9 663.99 565.9 664.32 549.75 664.65 564.7 664.98 548.19 665.31 565.14 665.64 553.76 665.97 568.14 666.3 553.16 666.63 564.36 666.96 555.93 667.29 564.89 667.62 552.42 667.95 563.87 668.28 556.57 668.61 566.81 668.94 550.61 669.27 565.26 669.6 554.99 669.93 564.27 670.26 554.11 670.59 565.51 670.92 546.05 671.25 565.83 671.58 553.64 671.91 567.08 672.24 553.14 672.57 563.82 672.9 553.68 673.23 564.02 673.56 554.34 673.89 563.48 674.22 554.67 674.55 565.3 674.88 553.46 675.21 566.74 675.54 551.24 675.87 564.94 676.2 550.66 676.53 570.44 676.86 553.67 677.19 566.74 677.52 553.13 677.85 567.53 678.18 553.52 678.51 567.19 678.84 553.72 679.17 573.03 679.5 556.61 679.83 573.74 680.16 556.48 680.49 563.22 680.82 554.43 681.15 563.89 681.48 555 681.81 563.09 682.14 553.91 682.47 568.08 682.8 553.33 683.13 571.37 683.46 550.98 683.79 563.3 684.12 556.95 684.45 563.23 684.78 552.98 685.11 564.28 685.44 553.6 685.77 563.67 686.1 556.52 686.43 563.22 686.76 549.55 687.09 567.36 687.42 550.69 687.75 566.98 688.08 554.32 688.41 563.22 688.74 553.75 689.07 569.82 689.4 549.55 689.73 568.53 690.06 556.1 690.39 571.2 690.72 553.48 691.05 563.35 691.38 553.01 691.71 563.85 692.04 556.52 692.37 564.41 692.7 551.54 693.03 572.87 693.36 551.91 693.69 567.24 694.02 556.71 694.35 565.24 694.68 553.13 695.01 567.44 695.34 544.76 695.67 566.68 696 551.42 696.33 563.23 696.66 555.65 696.99 564.95 697.32 556.24 697.65 568.01 697.98 551.57 698.31 569.65 698.64 556.93 698.97 565.21 699.3 555.76 699.63 564.91 699.96 550.9 700.29 566.79 700.62 554.47 700.95 566.99 701.28 552.42 701.61 565.31 701.94 552.73 702.27 565.61 702.6 555.62 702.93 563.13 703.26 554.4 703.59 564.37 703.92 556.87 704.25 565.97 704.58 555.67 704.91 565.66 705.24 553.19 705.57 565.5 705.9 554.25 706.23 565.35 706.56 556.73 706.89 565.82 707.22 553.34 707.55 569.65 707.88 552.48 708.21 564.39 708.54 552.17 708.87 565.51 709.2 556.36 709.53 564.38 709.86 553.88 710.19 564.77 710.52 552.09 710.85 566.07 711.18 553.95 711.51 564.59 711.84 547.63 712.17 563.72 712.5 556.92 712.83 565.32 713.16 555.79 713.49 566.33 713.82 551.72 714.15 566.36 714.48 554.83 714.81 564.04 715.14 555.04 715.47 563.58 715.8 553.68 716.13 567.73 716.46 553.9 716.79 567.67 717.12 552.56 717.45 564.71 717.78 556.05 718.11 564.6 718.44 556.7 718.77 569.35 719.1 554.58 719.43 563.16 719.76 554.94 720.09 566.73 720.42 556.07 720.75 564.49 721.08 556.72 721.41 563.19 721.74 556.31 722.07 566.97 722.4 556.45 722.73 564.63 723.06 552.11 723.39 574.79 723.72 555.4 724.05 565.71 724.38 555.64 724.71 565.49 725.04 552.04 725.37 566.57 725.7 554.89 726.03 563.98 726.36 552.48 726.69 565.14 727.02 548.03 727.35 563.53 727.68 553.18 728.01 565.77 728.34 554.38 728.67 563.19 729 554.74 729.33 567.1 729.66 555.8 729.99 566.1 730.32 550.28 730.65 565.96 730.98 554.82 731.31 563.37 731.64 554.93 731.97 563.21 732.3 554.57 732.63 568.69 732.96 547.35 733.29 568.16 733.62 550.91 733.95 564.78 734.28 556.38 734.61 564.86 734.94 556.42 735.27 564.2 735.6 551.44 735.93 566.19 736.26 553.44 736.59 568.04 736.92 552.77 737.25 567.69 737.58 555.14 737.91 573.9 738.24 556.69 738.57 563.13 738.9 551.6 739.23 566.5 739.56 553.24 739.89 567.28 740.22 552.46 740.55 569.72 740.88 556.59 741.21 564.94 741.54 552.63 741.87 567.07 742.2 555.82 742.53 563.03 742.86 552.06 743.19 569.48 743.52 553.5 743.85 563.08 744.18 551.1 744.51 566.81 744.84 553.47 745.17 566.99 745.5 551.36 745.83 564.1 746.16 552.11 746.49 564.66 746.82 555.41 747.15 567.57 747.48 553.39 747.81 563.39 748.14 553.65 748.47 566.41 748.8 554.59 749.13 564.49 749.46 556.19 749.79 567.66 750.12 552.83 750.45 563.1 750.78 555.68 751.11 565.2 751.44 553.85 751.77 563.64 752.1 556.22 752.43 569.19 752.76 556.06 753.09 567.74 753.42 556.94 753.75 572.12 754.08 553.13 754.41 563.26 754.74 555.98 755.07 566.93 755.4 555.1 755.73 570.14 756.06 550.56 756.39 563.71 756.72 555.99 757.05 567.27 757.38 554.85 757.71 565.66 758.04 552.74 758.37 568.18 758.7 556.72 759.03 565.71 759.36 556.29 759.69 569.97 760.02 553.61 760.35 567.96 760.68 552.94 761.01 567.62 761.34 556.8 761.67 564.4 762 556.34 762.33 563.79 762.66 552.26 762.99 564.15 763.32 551.99 763.65 572.14 763.98 556.03 764.31 565.72 764.64 556 764.97 564.64 765.3 555.15 765.63 569.27 765.96 553.17 766.29 563.3 766.62 556.42 766.95 567.59 767.28 554.99 767.61 571.26 767.94 552.32 768.27 569.54 768.6 553.12 768.93 564.56 769.26 552.76 769.59 572.95 769.92 556.05 770.25 565.14 770.58 555.25 770.91 571.87 771.24 554.84 771.57 565.87 771.9 551.98 772.23 569.76 772.56 554.65 772.89 564.15 773.22 556.45 773.55 566.84 773.88 550.68 774.21 568.89 774.54 553.26 774.87 564.49 775.2 554.46 775.53 564.73 775.86 553.05 776.19 563.5 776.52 556.57 776.85 563.41 777.18 552.31 777.51 567.88 777.84 554 778.17 568.23 778.5 555.17 778.83 564.82 779.16 551.06 779.49 563.77 779.82 554.44 780.15 565.14 780.48 554.58 780.81 570.48 781.14 554.55 781.47 564.57 781.8 552.51 782.13 565.69 782.46 556.52 782.79 563.98 783.12 554.38 783.45 568.12 783.78 553.17 784.11 565.86 784.44 555.01 784.77 564.92 785.1 555.44 785.43 566.85 785.76 551.37 786.09 569.54 786.42 548.25 786.75 570.81 787.08 556.52 787.41 570.87 787.74 556.79 788.07 568.32 788.4 556.2 788.73 563.78 789.06 554.9 789.39 569.99 789.72 556.17 790.05 569.87 790.38 545.31 790.71 564.54 791.04 553.31 791.37 564.31 791.6 562 792.4 605.5 793.6 513.5 796.3 562 796.65 571.71 796.98 560.22 797.31 571.14 797.64 558.07 797.97 572.2 798.3 557.06 798.63 568.32 798.96 558.42 799.29 571.97 799.62 556.99 799.95 566.98 800.28 554.39 800.61 566.45 800.94 553.23 801.27 571.4 801.6 556.41 801.93 573.19 802.26 555.98 802.59 567.73 802.92 554.19 803.25 568.02 803.58 557.54 803.91 566.02 804.24 554.07 804.57 565.23 804.9 553.24 805.23 567.84 805.56 554.06 805.89 564.55 806.22 553.35 806.55 569.8 806.88 554.8 807.21 566.53 807.54 553.35 807.87 564.01 808.2 555.06 808.53 564.37 808.86 553.91 809.19 568.04 809.52 553.15 809.85 564.35 810.18 556.23 810.51 570.02 810.84 549.72 811.17 565 811.5 552.4 811.83 567.6 812.16 554.23 812.49 563.51 812.82 551.13 813.15 564.48 813.48 554.89 813.81 567.19 814.14 554.39 814.47 563.46 814.8 554.32 815.13 568.1 815.46 555.93 815.79 565.9 816.12 555.67 816.45 564.71 816.78 555.14 817.11 564.6 817.44 553.53 817.77 563.21 818.1 554.96 818.43 563.67 818.76 551.49 819.09 563.58 819.42 554.72 819.75 565.57 820.08 554.82 820.41 567.53 820.74 551.83 821.07 567.66 821.4 554.45 821.73 564.23 822.06 549.95 822.39 565.66 822.72 550.89 823.05 565.72 823.38 554.13 823.71 566.29 824.04 549.7 824.37 564.4 824.7 555.91 825.03 564.56 825.36 556.21 825.69 563.67 826.02 547.21 826.35 567.32 826.68 556.57 827.01 566.13 827.34 555.59 827.67 565.06 828 554.72 828.33 567.28 828.66 548.63 828.99 563.83 829.32 550 829.65 565.77 829.98 555.14 830.31 567.57 830.64 555.25 830.97 565.05 831.3 554.08 831.63 565.17 831.96 553.42 832.29 563.59 832.62 555.58 832.95 563.62 833.28 555.56 833.61 564.43 833.94 555.21 834.27 565.81 834.6 555.38 834.93 571.85 835.26 550.31 835.59 567.53 835.92 552.7 836.25 563.28 836.58 556.08 836.91 566.12 837.24 550.47 837.57 566.25 837.9 556.68 838.23 565.86 838.56 549.36 838.89 567.95 839.22 551.79 839.55 564.77 839.88 555.56 840.21 564.7 840.54 555.6 840.87 567.24 841.2 556.01 841.53 567.3 841.86 553.71 842.19 572.45 842.52 555.71 842.85 569.48 843.18 555.53 843.51 565.63 843.84 555.64 844.17 566.78 844.5 556.55 844.83 565.76 845.16 553.33 845.49 564.09 845.82 552.29 846.15 563.29 846.48 550.4 846.81 564.11 847.14 556.75 847.47 571.17 847.8 555.29 848.13 565.15 848.46 553.27 848.79 568.31 849.12 554.77 849.45 566.42 849.78 554.71 850.11 563.36 850.44 553.06 850.77 565.21 851.1 549.97 851.43 563.3 851.76 554.94 852.09 569.06 852.42 552.58 852.75 568.83 853.08 554.33 853.41 564.8 853.74 553.98 854.07 566.46 854.4 553.24 854.73 566.67 855.06 556.14 855.39 567.2 855.72 549.84 856.05 563.09 856.38 556.81 856.71 570.54 857.04 551.86 857.37 564.75 857.7 555.55 858.03 564.47 858.36 556.43 858.69 566.28 859.02 552.43 859.35 568.34 859.68 553.79 860.01 569.61 860.34 551.48 860.67 565.32 861 554.52 861.33 563.76 861.66 553.68 861.99 565.44 862.32 554.73 862.65 563.14 862.98 555.55 863.31 570.9 863.64 555.27 863.97 564.47 864.3 554.85 864.63 567.79 864.96 555.33 865.29 567.22 865.62 552.82 865.95 564.01 866.28 549.39 866.61 563.18 866.94 547.83 867.27 563.97 867.6 556.65 867.93 564.06 868.26 556.43 868.59 568.16 868.92 554.28 869.25 563.66 869.58 556.34 869.91 566.36 870.24 556.58 870.57 565.85 870.9 551.81 871.23 565.55 871.56 553.83 871.89 566.3 872.22 551.73 872.55 565.29 872.88 556.17 873.21 565.15 873.54 550.83 873.87 565.04 874.2 550.85 874.53 567.54 874.86 556.12 875.19 563.94 875.52 556.98 875.85 564.68 876.18 556.97 876.51 564.7 876.84 553.97 877.17 563.2 877.5 555.62 877.83 567.23 878.16 552.12 878.49 568.09 878.82 556.66 879.15 564.94 879.48 556.91 879.81 563.51 880.14 556.09 880.47 564.68 880.8 554.73 881.13 569.58 881.46 554.26 881.79 563.07 882.12 550.45 882.45 564.54 882.78 549.13 883.11 567.87 883.44 554.3 883.77 565.17 884.1 548.27 884.43 567.29 884.76 552.7 885.09 563.33 885.42 550.68 885.75 565.64 886.08 554.79 886.41 566.97 886.74 555.22 887.07 566.68 887.4 553.82 887.73 565.58 888.06 554.28 888.39 567.34 888.72 551.92 889.05 564.26 889.38 556.84 889.71 568.1 890.04 555.92 890.37 564.23 890.7 551.39 891.03 569.05 891.36 556.35 891.69 563.09 892.02 553.05 892.35 567.05 892.68 554.51 893.01 566.76 893.34 554.7 893.6 562 894.4 606.5 895.6 518.3 898.3 562 898.62 561.25 898.95 574.15 899.28 554.36 899.61 571.72 899.94 555.83 900.27 572.94 900.6 551.58 900.93 571.68 901.26 553.3 901.59 568.06 901.92 557.53 902.25 568.29 902.58 555.17 902.91 568.81 903.24 556.85 903.57 566.51 903.9 555.02 904.23 565.58 904.56 554.31 904.89 565.58 905.22 555.34 905.55 565.64 905.88 554.37 906.21 564.96 906.54 553.12 906.87 570.09 907.2 552.34 907.53 568.09 907.86 557.16 908.19 564.9 908.52 552.79 908.85 564.14 909.18 555.11 909.51 564.92 909.84 550.68 910.17 565.48 910.5 556.62 910.83 565.27 911.16 552.82 911.49 563.51 911.82 549.09 912.15 566.22 912.48 556.62 912.81 568.12 913.14 556.09 913.47 563.53 913.8 548.64 914.13 566.05 914.46 555.27 914.79 568.02 915.12 556.64 915.45 564.4 915.78 555.29 916.11 563.88 916.44 554.98 916.77 569.02 917.1 553.15 917.43 563.47 917.76 553.83 918.09 566.24 918.42 554.72 918.75 563.23 919.08 556.72 919.41 564.62 919.74 554.78 920.07 564.42 920.4 554.84 920.73 563.24 921.06 555.2 921.39 566.75 921.72 556.96 922.05 565.97 922.38 556.34 922.71 564.05 923.04 556.91 923.37 564.81 923.7 553.15 924.03 564.4 924.36 550.48 924.69 567.59 925.02 555.83 925.35 563.86 925.68 555.15 926.01 567.99 926.34 556.42 926.67 566.17 927 554.43 927.33 563.05 927.66 554 927.99 564.25 928.32 554.1 928.65 564.73 928.98 556.11 929.31 568.67 929.64 550.82 929.97 566.68 930.3 554.12 930.63 563.08 930.96 553.42 931.29 566.15 931.62 550.62 931.95 563.16 932.28 554.1 932.61 565.94 932.94 554.5 933.27 565 933.6 548.61 933.93 564 934.26 547.44 934.59 563.59 934.92 556.67 935.25 570.33 935.58 554.94 935.91 564.75 936.24 551.22 936.57 563.09 936.9 555.13 937.23 567.76 937.56 550 937.89 566.82 938.22 555.6 938.55 565.76 938.88 555.04 939.21 564.75 939.54 550.85 939.87 564.47 940.2 552.16 940.53 566.34 940.86 553.4 941.19 565.77 941.52 553.4 941.85 567.92 942.18 554.49 942.51 563.7 942.84 553.14 943.17 563.99 943.5 553.55 943.83 564.76 944.16 554.82 944.49 569.2 944.82 554.62 945.15 566.29 945.48 552.64 945.81 565.04 946.14 553.28 946.47 572.04 946.8 550.23 947.13 564.52 947.46 552.53 947.79 563.21 948.12 555.42 948.45 565.51 948.78 556.71 949.11 569.33 949.44 549.98 949.77 565.85 950.1 554.71 950.43 565.17 950.76 555.94 951.09 567.42 951.42 555.53 951.75 566.54 952.08 554.67 952.41 570.33 952.74 553.67 953.07 567.93 953.4 555.88 953.73 565.04 954.06 554.49 954.39 564.14 954.72 556.04 955.05 564.59 955.38 553.42 955.71 568.25 956.04 555.72 956.37 570.66 956.7 553.29 957.03 569.84 957.36 555.98 957.69 565.99 958.02 556.51 958.35 563.38 958.68 553.41 959.01 564.54 959.34 549.07 959.67 563.63 960 556.92 960.33 563.08 960.66 554.21 960.99 563.71 961.32 556.98 961.65 563.89 961.98 551.9 962.31 566.68 962.64 552.88 962.97 565.33 963.3 556.92 963.63 566.29 963.96 553.21 964.2 562 965 601.4 966.2 521.2 968.9 562 969.24 559.82 969.57 576.66 969.9 555.08 970.23 572.7 970.56 556.91 970.89 572.51 971.22 553.64 971.55 571.21 971.88 556.38 972.21 568.48 972.54 555.77 972.87 568.11 973.2 556 973.53 568.06 973.86 556.1 974.19 574.37 974.52 554.77 974.85 569.76 975.18 551.74 975.51 567.43 975.84 553.78 976.17 566 976.5 557.62 976.83 567.76 977.16 553.41 977.49 567.62 977.82 556.5 978.15 566.73 978.48 554.09 978.81 570.73 979.14 555.5 979.47 564.55 979.8 553.39 980.13 563.16 980.46 544.15 980.79 567.23 981.12 550.31 981.45 565.38 981.78 555.33 982.11 564.82 982.44 554.56 982.77 563.44 983.1 553.1 983.43 565.02 983.76 552.45 984.09 563.51 984.42 548.54 984.75 568.22 985.08 550.33 985.41 567.02 985.74 556.01 986.07 568.22 986.4 556.74 986.73 566.4 987.06 553 987.39 563.21 987.72 554.11 988.05 566.76 988.38 554.58 988.71 567.9 989.04 554.31 989.37 563.06 989.7 556.68 990.03 563.53 990.36 555.88 990.69 563.75 991.02 550.26 991.35 566.55 991.68 553.64 992.01 572.85 992.34 554.24 992.67 567.54 993 556.44 993.33 563.31 993.66 554.68 993.99 565.08 994.32 555.93 994.65 564.01 994.98 553.25 995.31 564.02 995.64 552.93 995.97 563.21 996.3 551.8 996.63 566.88 996.96 555.32 997.29 568.13 997.62 552.96 997.95 566.6 998.28 548.9 998.61 571.51 998.94 556.93 999.27 564.22 999.6 552.73 999.93 567.09 1000.26 555.51 1000.59 571.87 1000.92 553.09 1001.25 570.54 1001.58 556.92 1001.91 568.25 1002.24 554.57 1002.57 565.31 1002.9 556.61 1003.23 568.52 1003.56 554.54 1003.89 567.36 1004.22 552.34 1004.55 565.25 1004.88 552.58 1005.21 565.67 1005.54 556.03 1005.87 563.05 1006.2 552.09 1006.53 564.26 1006.86 555.47 1007.19 573.42 1007.52 553.74 1007.85 566.19 1008.18 553.72 1008.51 566.69 1008.84 554.29 1009.17 572.31 1009.5 553.5 1009.83 563.31 1010.16 556 1010.49 563.98 1010.82 556.75 1011.15 563.97 1011.48 552.71 1011.81 568.76 1012.14 556.71 1012.47 566.91 1012.8 556.08 1013.13 569.18 1013.46 551.63 1013.79 563.98 1014.12 554.57 1014.45 567.73 1014.78 550.33 1015.11 564.96 1015.44 554.12 1015.77 563.9 1016.1 553.07 1016.43 563.4 1016.76 552.9 1017.09 568.94 1017.42 554.68 1017.75 567.56 1018.08 555.59 1018.41 572.26 1018.74 553.84 1019.07 563.37 1019.4 547.62 1019.73 563.41 1020.06 553.02 1020.39 569.56 1020.72 552.98 1021.05 566.03 1021.38 555.69 1021.71 563.64 1022.04 555.88 1022.37 565.04 1022.7 554.73 1023.03 565.54 1023.36 555.39 1023.69 568.02 1024.02 551.81 1024.35 567.98 1024.68 554.78 1025.01 563.1 1025.34 553.82 1025.67 569.7 1026 555.04 1026.33 572.27 1026.66 555.93 1026.99 565.68 1027.32 548.96 1027.65 563.05 1027.98 556.17 1028.31 564.61 1028.64 556.29 1028.97 569.85 1029.3 551.95 1029.63 568.63 1029.96 553.45 1030.29 563.34 1030.62 552.47 1030.95 570.79 1031.28 554.64 1031.61 568.59 1031.94 553.88 1032.27 570.12 1032.6 554.07 1032.93 564.31 1033.26 556.95 1033.59 568 1033.92 551.77 1034.25 568.96 1034.58 554.71 1034.91 564.91 1035.24 555.05 1035.57 568.66 1035.9 551.99 1036.23 567.81 1036.56 556.65 1036.89 566.4 1037.22 554.34 1037.55 564.88 1037.88 556.39 1038.21 567.44 1038.6 562 1039.4 605.9 1040.6 519.2 1043.3 562 1043.49 574.16 1043.82 558.28 1044.15 571.17 1044.48 560.77 1044.81 576.37 1045.14 558.93 1045.47 575.19 1045.8 553.88 1046.13 568.78 1046.46 556.76 1046.79 569.68 1047.12 558.26 1047.45 569.41 1047.78 558.62 1048.11 568.54 1048.44 557.05 1048.77 568.25 1049.1 554.55 1049.43 569.3 1049.76 554.22 1050.09 565.16 1050.42 549.59 1050.75 568.91 1051.08 552.87 1051.41 565.82 1051.74 555.67 1052.07 566.37 1052.4 557.47 1052.73 565.74 1053.06 550.16 1053.39 563.09 1053.72 554.64 1054.05 566.54 1054.38 552.43 1054.71 563.27 1055.04 551.35 1055.37 568.15 1055.7 553.97 1056.03 565.44 1056.36 552.94 1056.69 566.99 1057.02 556.45 1057.35 572.05 1057.68 555.16 1058.01 565.9 1058.34 553.72 1058.67 563.31 1059 552.76 1059.33 564.5 1059.66 549.59 1059.99 567.56 1060.32 552.92 1060.65 565.04 1060.98 554.87 1061.31 563.49 1061.64 551.97 1061.97 565.72 1062.3 554.13 1062.63 565.97 1062.96 556.1 1063.29 563.05 1063.62 552.73 1063.95 569.05 1064.28 551.71 1064.61 568.34 1064.94 555.49 1065.27 569.51 1065.6 552.96 1065.93 563.81 1066.26 554.64 1066.59 569.78 1066.92 556.79 1067.25 564.71 1067.58 554.2 1067.91 563.39 1068.24 554.07 1068.57 565.92 1068.9 549.54 1069.23 566.89 1069.56 551.67 1069.89 564.91 1070.22 555.73 1070.55 564.43 1070.88 552.61 1071.21 565.03 1071.54 553.23 1071.87 565.18 1072.2 552.89 1072.53 563.45 1072.86 554.53 1073.19 566.35 1073.52 552.53 1073.85 571.34 1074.18 552.79 1074.51 565.71 1074.84 554.29 1075.17 564.36 1075.5 555.14 1075.83 567.28 1076.16 546.49 1076.49 566.69 1076.82 554.49 1077.15 564.05 1077.48 554.78 1077.81 563.78 1078.14 553.04 1078.47 568.76 1078.8 554.75 1079.13 564.88 1079.46 556.18 1079.79 567.24 1080.12 552.2 1080.45 564.15 1080.78 555.57 1081.11 563.39 1081.44 553.97 1081.77 568.31 1082.1 550.45 1082.43 569.13 1082.76 555.56 1083.09 566.07 1083.42 552.36 1083.75 565.07 1084.08 555.39 1084.41 565.35 1084.74 552.55 1085.07 564.26 1085.4 550.62 1085.73 564.39 1086.06 554.72 1086.39 565.3 1086.72 554.25 1087.05 563.97 1087.38 556.01 1087.71 565.33 1088.04 555.24 1088.37 567.03 1088.7 556.2 1089.03 566.61 1089.36 555.12 1089.69 568.04 1090.02 554.73 1090.35 566.29 1090.68 554.59 1091.01 563.98 1091.34 551.11 1091.67 563.98 1092 551.41 1092.33 564.16 1092.66 554.08 1092.99 565.12 1093.32 556.07 1093.65 570.64 1093.98 552.68 1094.31 563.35 1094.64 552.26 1094.97 568.14 1095.3 556.34 1095.63 566.32 1095.96 556.31 1096.29 569.21 1096.62 555.07 1096.95 569.11 1097.28 553.02 1097.61 568.47 1097.94 550.41 1098.27 566.26 1098.6 553.11 1098.93 563.35 1099.26 556.44 1099.59 563.05 1099.92 556.29 1100.25 563.69 1100.58 553.19 1100.91 564.11 1101.24 556.57 1101.57 566.45 1101.9 555.18 1102.23 569.76 1102.56 550.62 1102.89 565.09 1103.22 555.91 1103.55 563.07 1103.88 556.63 1104.21 565.78 1104.54 556.87 1104.87 563.02 1105.2 556.67 1105.53 568.91 1105.86 556.49 1106.19 568.67 1106.52 550.91 1106.85 565.27 1107.18 555.67 1107.51 565.37 1107.84 551.73 1108.17 564.18 1108.5 556.65 1108.83 565.63 1109.16 555.63 1109.49 566.4 1109.82 553.95 1110.15 565.1 1110.48 556.33 1110.81 568.21 1111.14 553.98 1111.47 568.74 1111.8 552.04 1112.13 567.47 1112.46 555.92 1112.79 564.44 1113.12 556.95 1113.45 567.81 1113.78 555.96 1114.11 571.24 1114.44 553.98 1114.77 564.23 1115.1 557 1115.43 569.17 1115.76 554.16 1116.09 564.15 1116.42 547.48 1116.75 566.12 1117.08 553.43 1117.41 563.3 1117.74 555.85 1118.07 565.4 1118.4 549.26 1118.73 566.63 1119.06 549.48 1119.39 564.14 1119.72 556.76 1120.05 563.62 1120.38 554.42 1120.71 564.88 1121.04 556.53 1121.37 564.94 1121.7 555.64 1122.03 564.5 1122.36 555.7 1122.69 565.74 1123.02 553.17 1123.35 565.05 1123.68 555.34 1124.01 567.6 1124.34 556.03 1124.67 569.35 1125 552.04 1125.33 570.45 1125.66 555.68 1125.99 567.97 1126.32 553.47 1126.65 563.55 1126.98 551.46 1127.31 569.22 1127.64 555.58 1127.97 564.15 1128.3 549.54 1128.63 566.77 1128.96 550.93 1129.29 564.3 1129.62 556.63 1129.95 567.94 1130.28 555.12 1130.61 566.21 1130.94 551.08 1131.27 563.06 1131.6 555.01 1131.93 568.25 1132.26 546.85 1132.59 568.15 1132.92 554.59 1133.25 568.83 1133.58 553.9 1133.91 563.82 1134.24 555.32 1134.57 564.53 1134.9 554.56 1135.23 563.44 1135.56 556.5 1135.89 564.73 1136.22 551.31 1136.55 568.55 1136.88 555.04 1137.21 565 1137.54 556.58 1137.87 567.49 1138.2 553.69 1138.53 564.5 1138.86 548.94 1139.19 569.01 1139.52 551.21 1139.85 571.66 1140.18 554.93 1140.6 562 1141.4 609 1142.6 519 1145.3 562 1145.46 556.68 1145.79 574.72 1146.12 552.54 1146.45 572.43 1146.78 555.43 1147.11 573.66 1147.44 553.04 1147.77 569.28 1148.1 558.16 1148.43 571.98 1148.76 554.75 1149.09 567.31 1149.42 552.02 1149.75 569.81 1150.08 556.82 1150.41 569.35 1150.74 548.86 1151.07 566.74 1151.4 556.61 1151.73 565.29 1152.06 556.19 1152.39 570.75 1152.72 557.3 1153.05 564.77 1153.38 553.92 1153.71 566.11 1154.04 551.55 1154.37 568.08 1154.7 557.37 1155.03 563.96 1155.36 554.18 1155.69 564.47 1156.02 554.9 1156.35 563.55 1156.68 550.44 1157.01 563.21 1157.34 556.44 1157.67 565.18 1158 552.27 1158.33 566.54 1158.66 555.16 1158.99 564.06 1159.32 548.72 1159.65 568.02 1159.98 552.83 1160.31 563.09 1160.64 543.92 1160.97 567.9 1161.3 549.14 1161.63 569.05 1161.96 553.48 1162.29 568.45 1162.62 551.05 1162.95 564.62 1163.28 552.35 1163.61 563.21 1163.94 554.07 1164.27 566.79 1164.6 556.32 1164.93 565.01 1165.26 554.03 1165.59 565.93 1165.92 556.7 1166.25 565.94 1166.58 551.41 1166.91 564.44 1167.24 549.39 1167.57 566.57 1167.9 552.22 1168.23 563.35 1168.56 554.22 1168.89 563.19 1169.22 553.45 1169.55 563.37 1169.88 556.2 1170.21 564.9 1170.54 556.08 1170.87 563.52 1171.2 552.95 1171.53 565.2 1171.86 552.52 1172.19 567.27 1172.52 556.15 1172.85 569.69 1173.18 554.94 1173.51 569.13 1173.84 555.61 1174.17 567.9 1174.5 551.29 1174.83 566.9 1175.16 555.19 1175.49 566.19 1175.82 553.75 1176.15 569.45 1176.48 555.01 1176.81 563.28 1177.14 556.53 1177.47 564.84 1177.8 555.91 1178.13 569.53 1178.46 552.84 1178.79 568.58 1179.12 551.88 1179.45 563.51 1179.78 551.91 1180.11 565.75 1180.44 554.03 1180.77 567.43 1181.1 550.28 1181.43 563.26 1181.76 555.11 1182.09 563.93 1182.42 553.26 1182.75 564.88" fill="none" stroke="#000" stroke-width="1.9" stroke-linejoin="round"/>
<path d="M461.5 614.5 H1182.5" fill="none" stroke="#595959" stroke-width="1"/>
<path d="M461.7 614.5 V606.5" stroke="#595959" stroke-width="1"/>
<text x="461.7" y="636.8" font-size="18.9" text-anchor="middle" font-weight="normal" >0.38</text>
<path d="M701.87 614.5 V606.5" stroke="#595959" stroke-width="1"/>
<text x="701.87" y="636.8" font-size="18.9" text-anchor="middle" font-weight="normal" >0.43</text>
<path d="M942.03 614.5 V606.5" stroke="#595959" stroke-width="1"/>
<text x="942.03" y="636.8" font-size="18.9" text-anchor="middle" font-weight="normal" >0.48</text>
<path d="M1182.2 614.5 V606.5" stroke="#595959" stroke-width="1"/>
<text x="1182.2" y="636.8" font-size="18.9" text-anchor="middle" font-weight="normal" >0.53</text>
<text x="821.7" y="664.8" font-size="18.9" text-anchor="middle" font-weight="normal" >Time (s)</text>
<rect x="83.6" y="361.5" width="184.84" height="247.8" fill="#fffccc"/>
<rect x="268.44" y="361.5" width="39.06" height="247.8" fill="#ccffcc"/>
<rect x="307.5" y="361.5" width="87.5" height="247.8" fill="#ccccff"/>
<path d="M268.44 361.5 V609.3 M307.5 361.5 V609.3" stroke="#000" stroke-width="1"/>
<path d="M83.4 609.3 V602.3 M105.89 609.3 V605.3 M119.04 609.3 V605.3 M128.37 609.3 V605.3 M135.61 609.3 V605.3 M141.53 609.3 V605.3 M146.53 609.3 V605.3 M150.86 609.3 V605.3 M154.68 609.3 V605.3 M158.1 609.3 V602.3 M180.59 609.3 V605.3 M193.74 609.3 V605.3 M203.07 609.3 V605.3 M210.31 609.3 V605.3 M216.23 609.3 V605.3 M221.23 609.3 V605.3 M225.56 609.3 V605.3 M229.38 609.3 V605.3 M232.8 609.3 V602.3 M255.29 609.3 V605.3 M268.44 609.3 V605.3 M277.77 609.3 V605.3 M285.01 609.3 V605.3 M290.93 609.3 V605.3 M295.93 609.3 V605.3 M300.26 609.3 V605.3 M304.08 609.3 V605.3 M307.5 609.3 V602.3 M329.99 609.3 V605.3 M343.14 609.3 V605.3 M352.47 609.3 V605.3 M359.71 609.3 V605.3 M365.63 609.3 V605.3 M370.63 609.3 V605.3 M374.96 609.3 V605.3 M378.78 609.3 V605.3 M382.2 609.3 V602.3 " stroke="#444" stroke-width="1"/>
<rect x="83.6" y="361.5" width="311.4" height="247.8" fill="none" stroke="#333" stroke-width="1"/>
<rect x="92" y="369.4" width="288.1" height="81.1" fill="#fff"/>
<rect x="99.9" y="382.15" width="32" height="17.2" fill="#fffccc" stroke="#333" stroke-width="1.3"/>
<text x="140.2" y="397.5" font-size="18.9" text-anchor="start" font-weight="normal" >1&#8211;300 Hz: 4.2%</text>
<text x="314.6" y="397.5" font-size="18.9" text-anchor="start" font-weight="normal" >8.4%</text>
<rect x="99.9" y="405.65" width="32" height="17.2" fill="#ccffcc" stroke="#333" stroke-width="1.3"/>
<text x="140.2" y="420.75" font-size="18.9" text-anchor="start" font-weight="normal" >0.3&#8211;1 kHz: 26.3%</text>
<text x="314.6" y="420.75" font-size="18.9" text-anchor="start" font-weight="normal" >42.1%</text>
<rect x="99.9" y="429.15" width="32" height="17.2" fill="#ccccff" stroke="#333" stroke-width="1.3"/>
<text x="140.2" y="443.75" font-size="18.9" text-anchor="start" font-weight="normal" >1&#8211;15 kHz: 69.4%</text>
<text x="314.6" y="443.75" font-size="18.9" text-anchor="start" font-weight="normal" >49.6%</text>
<path d="M307 384.3 V446.3" stroke="#000" stroke-width="1.2"/>
<path d="M251 376 H293.5" stroke="#000" stroke-width="4.2"/>
<path d="M322.8 376 H338.8 M349.4 376 H365" stroke="#000" stroke-width="4.2"/>
<path d="M83.6 609.2 C88.67 609.12 103.93 608.9 114 608.7 C124.07 608.5 136.5 608.37 144 608 C151.5 607.63 154 607.17 159 606.5 C164 605.83 169 604.92 174 604 C179 603.08 184.67 602.13 189 601 C193.33 599.87 196.67 598.38 200 597.2 C203.33 596.02 206.02 595.27 209 593.9 C211.98 592.53 214.92 590.95 217.9 589 C220.88 587.05 223.9 584.6 226.9 582.2 C229.9 579.8 233.47 577.05 235.9 574.6 C238.33 572.15 239.62 569.93 241.5 567.5 C243.38 565.07 245.2 563.03 247.2 560 C249.2 556.97 251.72 552.43 253.5 549.3 C255.28 546.17 256.42 544.42 257.9 541.2 C259.38 537.98 260.9 533.92 262.4 530 C263.9 526.08 265.63 521.25 266.9 517.7 C268.17 514.15 269.18 511.07 270 508.7 C270.82 506.33 270.82 505 271.8 503.5 C272.78 502 274.17 501.52 275.9 499.7 C277.63 497.88 280.12 495.88 282.2 492.6 C284.28 489.32 286.43 484.32 288.4 480 C290.37 475.68 291.93 468.08 294 466.7 C296.07 465.32 298.48 469.83 300.8 471.7 C303.12 473.57 305.67 475.52 307.9 477.9 C310.13 480.28 312.25 483.45 314.2 486 C316.15 488.55 317.95 490.8 319.6 493.2 C321.25 495.6 322.75 497.77 324.1 500.4 C325.45 503.03 326.48 505.3 327.7 509 C328.92 512.7 330.08 518.07 331.4 522.6 C332.72 527.13 334.2 531.67 335.6 536.2 C337 540.73 338.53 545.67 339.8 549.8 C341.07 553.93 342.25 557.52 343.2 561 C344.15 564.48 344.57 567.43 345.5 570.7 C346.43 573.97 347.57 577.32 348.8 580.6 C350.03 583.88 351.53 587.38 352.9 590.4 C354.27 593.42 355.63 596.5 357 598.7 C358.37 600.9 359.77 602.55 361.1 603.6 C362.43 604.65 363.63 604.7 365 605 C366.37 605.3 367.88 605.2 369.3 605.4 C370.72 605.6 372.12 605.75 373.5 606.2 C374.88 606.65 376.1 607.6 377.6 608.1 C379.1 608.6 379.67 609 382.5 609.2 C385.33 609.4 392.58 609.28 394.6 609.3" fill="none" stroke="#000" stroke-width="4.4" stroke-linejoin="round"/>
<path id="cdash" d="M83.6 609.2 C88 609 101.27 608.53 110 608 C118.73 607.47 127 606.75 136 606 C145 605.25 154.33 604.83 164 603.5 C173.67 602.17 186.28 600.33 194 598 C201.72 595.67 205.78 592.05 210.3 589.5 C214.82 586.95 217.72 585.55 221.1 582.7 C224.48 579.85 227.72 575.55 230.6 572.4 C233.48 569.25 236.02 567.28 238.4 563.8 C240.78 560.32 242.88 555.33 244.9 551.5 C246.92 547.67 248.63 544.8 250.5 540.8 C252.37 536.8 254.42 531.5 256.1 527.5 C257.78 523.5 259.25 520.9 260.6 516.8 C261.95 512.7 263 507.02 264.2 502.9 C265.4 498.78 266.87 495.83 267.8 492.1 C268.73 488.37 269.1 483.02 269.8 480.5 C270.5 477.98 270.97 477.92 272 477 C273.03 476.08 274.48 475.63 276 475 C277.52 474.37 279.1 473.87 281.1 473.2 C283.1 472.53 286.02 471.53 288 471 C289.98 470.47 291.7 470 293 470 C294.3 470 294.78 469.68 295.8 471 C296.82 472.32 297.97 474.35 299.1 477.9 C300.23 481.45 301.3 487.7 302.6 492.3 C303.9 496.9 305.53 501.08 306.9 505.5 C308.27 509.92 309.53 514.47 310.8 518.8 C312.07 523.13 313.3 527.22 314.5 531.5 C315.7 535.78 316.83 540.25 318 544.5 C319.17 548.75 320.37 553 321.5 557 C322.63 561 323.62 565 324.8 568.5 C325.98 572 327.23 575.42 328.6 578 C329.97 580.58 331.55 582.2 333 584 C334.45 585.8 335.08 586.77 337.3 588.8 C339.52 590.83 343.85 594.25 346.3 596.2 C348.75 598.15 350.08 599.13 352 600.5 C353.92 601.87 354.63 603.33 357.8 604.4 C360.97 605.47 366.8 606.25 371 606.9 C375.2 607.55 379.07 607.92 383 608.3 C386.93 608.68 392.67 609.05 394.6 609.2" fill="none" stroke="#000" stroke-width="4.4" stroke-dasharray="11.7 14.2" stroke-dashoffset="23.8"/>
<text x="83.4" y="636.3" font-size="18.9" text-anchor="middle">10<tspan font-size="12.8" dy="-8.6">0</tspan></text>
<text x="158.1" y="636.3" font-size="18.9" text-anchor="middle">10<tspan font-size="12.8" dy="-8.6">1</tspan></text>
<text x="232.8" y="636.3" font-size="18.9" text-anchor="middle">10<tspan font-size="12.8" dy="-8.6">2</tspan></text>
<text x="307.5" y="636.3" font-size="18.9" text-anchor="middle">10<tspan font-size="12.8" dy="-8.6">3</tspan></text>
<text x="382.2" y="636.3" font-size="18.9" text-anchor="middle">10<tspan font-size="12.8" dy="-8.6">4</tspan></text>
<text x="239.4" y="664.5" font-size="18.9" text-anchor="middle" font-weight="normal" >Frequency (Hz)</text>
<text x="71" y="485.5" font-size="18.9" text-anchor="middle" font-weight="normal" transform="rotate(-90 71 485.5)">Normalized magnitude</text>
</svg></body></html>
